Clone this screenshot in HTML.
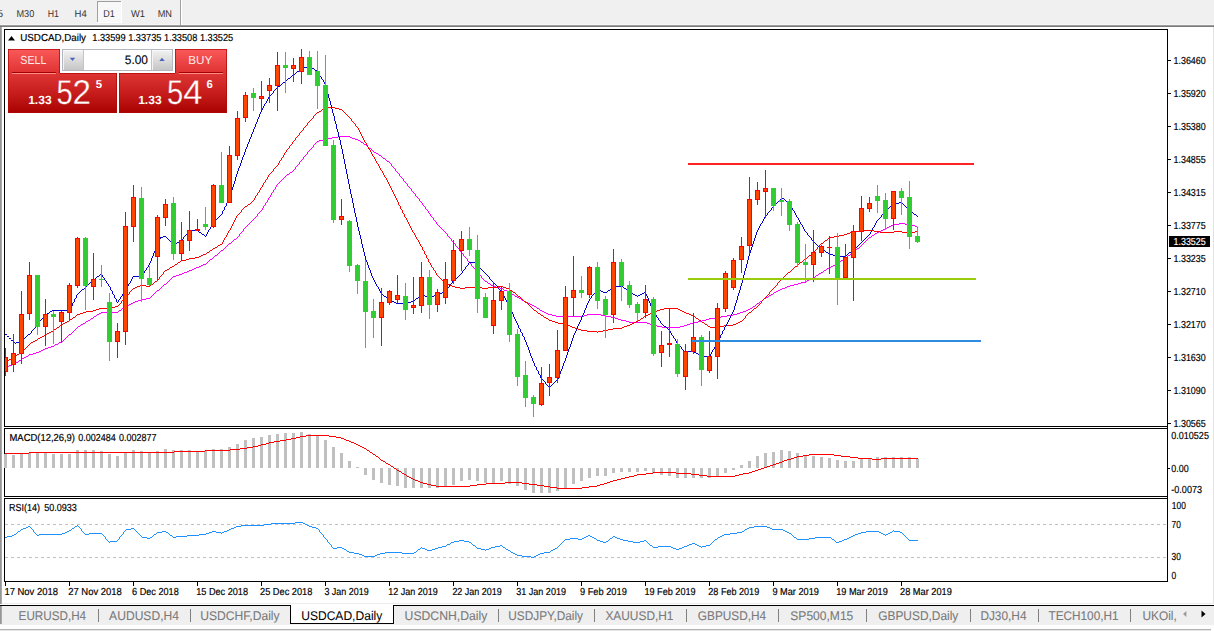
<!DOCTYPE html>
<html><head><meta charset="utf-8"><title>USDCAD Daily</title>
<style>html,body{margin:0;padding:0;background:#fff;overflow:hidden}svg{display:block}</style></head>
<body>
<svg width="1214" height="631" viewBox="0 0 1214 631" font-family="Liberation Sans, sans-serif" text-rendering="geometricPrecision">
<defs>
<linearGradient id="gBtn" x1="0" y1="0" x2="0" y2="1"><stop offset="0" stop-color="#fb5a5a"/><stop offset="1" stop-color="#df3232"/></linearGradient>
<linearGradient id="gBox" x1="0" y1="0" x2="0" y2="1"><stop offset="0" stop-color="#de3535"/><stop offset="0.55" stop-color="#c41a1a"/><stop offset="1" stop-color="#a90000"/></linearGradient>
<linearGradient id="gSpin" x1="0" y1="0" x2="0" y2="1"><stop offset="0" stop-color="#f2f2f2"/><stop offset="0.5" stop-color="#dcdcdc"/><stop offset="1" stop-color="#c6c6c6"/></linearGradient>
<linearGradient id="gBoxU" gradientUnits="userSpaceOnUse" x1="0" y1="73" x2="0" y2="113"><stop offset="0" stop-color="#de3535"/><stop offset="0.55" stop-color="#c41a1a"/><stop offset="1" stop-color="#a90000"/></linearGradient>
<linearGradient id="gLeft" x1="0" y1="0" x2="1" y2="0"><stop offset="0" stop-color="#8c8c8c"/><stop offset="1" stop-color="#b4b4b4"/></linearGradient>
</defs>
<rect x="0" y="0" width="1214" height="631" fill="#fff"/>
<g shape-rendering="crispEdges">
<rect x="0" y="0" width="1214" height="25" fill="#f0f0f0"/>
<rect x="0" y="24" width="1214" height="1" fill="#f6f6f6"/>
<rect x="0" y="25" width="1214" height="1" fill="#9c9c9c"/>
<rect x="0" y="26" width="1214" height="1" fill="#7a7a7a"/>
<rect x="97" y="1" width="25" height="22" fill="#f8f8f8"/>
<rect x="97" y="1" width="25" height="1" fill="#a0a0a0"/><rect x="97" y="1" width="1" height="22" fill="#a0a0a0"/>
<rect x="97" y="22" width="25" height="1" fill="#fff"/><rect x="121" y="1" width="1" height="22" fill="#fff"/>
<rect x="180" y="0" width="1" height="25" fill="#a0a0a0"/><rect x="181" y="0" width="1" height="25" fill="#fff"/>
<rect x="1213" y="27" width="1" height="577" fill="#e2e2e2"/>
<rect x="2" y="603" width="1212" height="1" fill="#ececec"/>
<rect x="0" y="606" width="1214" height="19" fill="#efefef"/>
<rect x="0" y="27" width="2" height="577" fill="url(#gLeft)"/>
<rect x="0" y="606" width="2" height="18" fill="url(#gLeft)"/>
<rect x="0" y="605" width="1214" height="1" fill="#000"/>
<rect x="0" y="625" width="1214" height="4" fill="#fdfdfd"/>
<rect x="0" y="629" width="1211" height="1" fill="#b2b2b2"/>
<rect x="0" y="630" width="1211" height="1" fill="#e6e6e6"/>
<rect x="4" y="29" width="1164" height="1" fill="#000"/>
<rect x="4" y="426" width="1164" height="1" fill="#000"/>
<rect x="4" y="29" width="1" height="398" fill="#000"/>
<rect x="1167" y="29" width="1" height="398" fill="#000"/>
<rect x="4" y="428" width="1164" height="1" fill="#000"/>
<rect x="4" y="496" width="1164" height="1" fill="#000"/>
<rect x="4" y="428" width="1" height="69" fill="#000"/>
<rect x="1167" y="428" width="1" height="69" fill="#000"/>
<rect x="4" y="498" width="1164" height="1" fill="#000"/>
<rect x="4" y="581" width="1164" height="1" fill="#000"/>
<rect x="4" y="498" width="1" height="84" fill="#000"/>
<rect x="1167" y="498" width="1" height="84" fill="#000"/>
<rect x="1167" y="29" width="1" height="553" fill="#000"/>
</g>
<clipPath id="cm"><rect x="5" y="30" width="1162" height="396"/></clipPath>
<g clip-path="url(#cm)">
<path d="M338 136h12v1h-12zM332 137h6v1h-6zM350 137h2v1h-2zM328 138h4v1h-4zM352 138h3v1h-3zM324 139h4v1h-4zM355 139h3v1h-3zM319 140h5v1h-5zM358 140h2v1h-2zM317 141h2v1h-2zM361 142h2v1h-2zM364 144h2v1h-2zM369 148h2v1h-2zM374 152h2v1h-2zM376 153h2v1h-2zM379 155h2v1h-2zM383 158h2v1h-2zM387 161h2v1h-2zM290 172h2v1h-2zM287 174h2v1h-2zM899 223h6v1h-6zM893 224h6v1h-6zM905 224h7v1h-7zM891 225h2v1h-2zM912 225h3v1h-3zM889 226h2v1h-2zM915 226h2v1h-2zM887 227h2v1h-2zM885 228h2v1h-2zM883 229h2v1h-2zM881 230h2v1h-2zM879 231h2v1h-2zM877 232h2v1h-2zM875 233h2v1h-2zM872 235h2v1h-2zM869 237h2v1h-2zM234 239h2v1h-2zM229 243h2v1h-2zM857 248h2v1h-2zM221 250h2v1h-2zM851 253h2v1h-2zM215 255h2v1h-2zM848 255h2v1h-2zM845 257h2v1h-2zM210 259h2v1h-2zM841 260h2v1h-2zM203 264h3v1h-3zM835 264h3v1h-3zM201 265h2v1h-2zM833 265h2v1h-2zM199 266h2v1h-2zM831 266h2v1h-2zM196 267h3v1h-3zM829 267h2v1h-2zM194 268h2v1h-2zM827 268h2v1h-2zM192 269h2v1h-2zM189 270h3v1h-3zM824 270h2v1h-2zM187 271h2v1h-2zM184 272h3v1h-3zM821 272h2v1h-2zM182 273h2v1h-2zM819 273h2v1h-2zM179 274h3v1h-3zM176 275h3v1h-3zM816 275h2v1h-2zM173 276h3v1h-3zM813 277h2v1h-2zM811 278h2v1h-2zM809 279h2v1h-2zM807 280h2v1h-2zM485 281h2v1h-2zM801 282h5v1h-5zM488 283h2v1h-2zM798 283h3v1h-3zM164 284h2v1h-2zM794 284h4v1h-4zM491 285h2v1h-2zM790 285h4v1h-4zM493 286h3v1h-3zM787 286h3v1h-3zM496 287h4v1h-4zM785 287h2v1h-2zM500 288h3v1h-3zM782 288h3v1h-3zM780 289h2v1h-2zM157 290h2v1h-2zM504 290h3v1h-3zM778 290h2v1h-2zM776 291h2v1h-2zM508 292h2v1h-2zM774 292h2v1h-2zM510 293h2v1h-2zM512 294h2v1h-2zM771 294h2v1h-2zM769 295h2v1h-2zM515 296h2v1h-2zM517 297h2v1h-2zM766 297h2v1h-2zM146 298h4v1h-4zM519 298h2v1h-2zM764 298h2v1h-2zM142 299h4v1h-4zM138 300h4v1h-4zM522 300h2v1h-2zM135 301h3v1h-3zM524 301h2v1h-2zM760 301h2v1h-2zM133 302h2v1h-2zM526 302h2v1h-2zM131 303h2v1h-2zM528 303h2v1h-2zM757 303h2v1h-2zM129 304h2v1h-2zM530 304h2v1h-2zM127 305h2v1h-2zM532 305h2v1h-2zM125 306h2v1h-2zM534 306h2v1h-2zM753 306h2v1h-2zM122 308h2v1h-2zM537 308h2v1h-2zM750 308h2v1h-2zM748 309h2v1h-2zM119 310h2v1h-2zM540 310h2v1h-2zM746 310h2v1h-2zM542 311h2v1h-2zM743 311h3v1h-3zM101 312h17v1h-17zM544 312h2v1h-2zM740 312h3v1h-3zM99 313h2v1h-2zM546 313h2v1h-2zM737 313h3v1h-3zM97 314h2v1h-2zM548 314h4v1h-4zM587 314h14v1h-14zM733 314h4v1h-4zM552 315h4v1h-4zM584 315h3v1h-3zM601 315h5v1h-5zM727 315h6v1h-6zM94 316h2v1h-2zM556 316h28v1h-28zM606 316h5v1h-5zM721 316h6v1h-6zM611 317h4v1h-4zM715 317h6v1h-6zM91 318h2v1h-2zM615 318h3v1h-3zM709 318h6v1h-6zM618 319h3v1h-3zM706 319h3v1h-3zM88 320h2v1h-2zM621 320h5v1h-5zM702 320h4v1h-4zM86 321h2v1h-2zM626 321h3v1h-3zM698 321h4v1h-4zM629 322h18v1h-18zM693 322h5v1h-5zM83 323h2v1h-2zM647 323h3v1h-3zM690 323h3v1h-3zM81 324h2v1h-2zM650 324h4v1h-4zM687 324h3v1h-3zM654 325h3v1h-3zM684 325h3v1h-3zM78 326h2v1h-2zM657 326h5v1h-5zM680 326h4v1h-4zM662 327h18v1h-18zM69 334h2v1h-2zM59 342h3v1h-3zM55 344h3v1h-3zM51 346h3v1h-3zM48 347h3v1h-3zM45 348h3v1h-3zM43 349h2v1h-2zM41 350h2v1h-2zM39 351h2v1h-2zM36 352h3v1h-3zM33 353h3v1h-3zM29 354h4v1h-4zM26 356h2v1h-2zM24 357h2v1h-2zM22 358h2v1h-2zM19 360h2v1h-2zM16 362h2v1h-2zM14 363h2v1h-2zM12 364h2v1h-2zM9 365h3v1h-3zM5 366h4v1h-4zM18 361h1v1h-1zM21 359h1v1h-1zM28 355h1v1h-1zM54 345h1v1h-1zM58 343h1v1h-1zM62 341h1v1h-1zM63 340h1v1h-1zM64 339h1v1h-1zM65 338h1v1h-1zM66 337h1v1h-1zM67 336h1v1h-1zM68 335h1v1h-1zM71 333h1v1h-1zM72 332h1v1h-1zM73 331h1v1h-1zM74 330h1v1h-1zM75 329h1v1h-1zM76 328h1v1h-1zM77 327h1v1h-1zM80 325h1v1h-1zM85 322h1v1h-1zM90 319h1v1h-1zM93 317h1v1h-1zM96 315h1v1h-1zM118 311h1v1h-1zM121 309h1v1h-1zM124 307h1v1h-1zM150 297h1v1h-1zM151 296h1v1h-1zM152 295h1v1h-1zM153 294h1v1h-1zM154 293h1v1h-1zM155 292h1v1h-1zM156 291h1v1h-1zM159 289h1v1h-1zM160 288h1v1h-1zM161 287h1v1h-1zM162 286h1v1h-1zM163 285h1v1h-1zM166 283h1v1h-1zM167 282h1v1h-1zM168 281h1v1h-1zM169 280h1v1h-1zM170 279h1v1h-1zM171 278h1v1h-1zM172 277h1v1h-1zM206 263h1v1h-1zM207 262h1v1h-1zM208 261h1v1h-1zM209 260h1v1h-1zM212 258h1v1h-1zM213 257h1v1h-1zM214 256h1v1h-1zM217 254h1v1h-1zM218 253h1v1h-1zM219 252h1v1h-1zM220 251h1v1h-1zM223 249h1v1h-1zM224 248h1v1h-1zM225 247h1v1h-1zM226 246h1v1h-1zM227 245h1v1h-1zM228 244h1v1h-1zM231 242h1v1h-1zM232 241h1v1h-1zM233 240h1v1h-1zM236 238h1v1h-1zM237 237h1v1h-1zM238 236h1v1h-1zM239 234h1v2h-1zM240 233h1v1h-1zM241 232h1v1h-1zM242 231h1v1h-1zM243 229h1v2h-1zM244 228h1v1h-1zM245 227h1v1h-1zM246 226h1v1h-1zM247 225h1v1h-1zM248 224h1v1h-1zM249 223h1v1h-1zM250 222h1v1h-1zM251 221h1v1h-1zM252 220h1v1h-1zM253 219h1v1h-1zM254 218h1v1h-1zM255 217h1v1h-1zM256 216h1v1h-1zM257 214h1v2h-1zM258 213h1v1h-1zM259 212h1v1h-1zM260 211h1v1h-1zM261 210h1v1h-1zM262 208h1v2h-1zM263 206h1v2h-1zM264 205h1v1h-1zM265 203h1v2h-1zM266 202h1v1h-1zM267 200h1v2h-1zM268 198h1v2h-1zM269 197h1v1h-1zM270 195h1v2h-1zM271 193h1v2h-1zM272 192h1v1h-1zM273 190h1v2h-1zM274 189h1v1h-1zM275 187h1v2h-1zM276 185h1v2h-1zM277 184h1v1h-1zM278 183h1v1h-1zM279 182h1v1h-1zM280 181h1v1h-1zM281 180h1v1h-1zM282 179h1v1h-1zM283 178h1v1h-1zM284 177h1v1h-1zM285 176h1v1h-1zM286 175h1v1h-1zM289 173h1v1h-1zM292 171h1v1h-1zM293 170h1v1h-1zM294 169h1v1h-1zM295 167h1v2h-1zM296 166h1v1h-1zM297 165h1v1h-1zM298 164h1v1h-1zM299 162h1v2h-1zM300 161h1v1h-1zM301 160h1v1h-1zM302 159h1v1h-1zM303 157h1v2h-1zM304 156h1v1h-1zM305 155h1v1h-1zM306 154h1v1h-1zM307 152h1v2h-1zM308 151h1v1h-1zM309 150h1v1h-1zM310 149h1v1h-1zM311 148h1v1h-1zM312 147h1v1h-1zM313 145h1v2h-1zM314 144h1v1h-1zM315 143h1v1h-1zM316 142h1v1h-1zM360 141h1v1h-1zM363 143h1v1h-1zM366 145h1v1h-1zM367 146h1v1h-1zM368 147h1v1h-1zM371 149h1v1h-1zM372 150h1v1h-1zM373 151h1v1h-1zM378 154h1v1h-1zM381 156h1v1h-1zM382 157h1v1h-1zM385 159h1v1h-1zM386 160h1v1h-1zM389 162h1v1h-1zM390 163h1v1h-1zM391 164h1v2h-1zM392 166h1v1h-1zM393 167h1v1h-1zM394 168h1v1h-1zM395 169h1v2h-1zM396 171h1v1h-1zM397 172h1v1h-1zM398 173h1v1h-1zM399 174h1v2h-1zM400 176h1v1h-1zM401 177h1v1h-1zM402 178h1v1h-1zM403 179h1v2h-1zM404 181h1v1h-1zM405 182h1v1h-1zM406 183h1v1h-1zM407 184h1v2h-1zM408 186h1v1h-1zM409 187h1v1h-1zM410 188h1v1h-1zM411 189h1v2h-1zM412 191h1v1h-1zM413 192h1v1h-1zM414 193h1v1h-1zM415 194h1v2h-1zM416 196h1v1h-1zM417 197h1v1h-1zM418 198h1v1h-1zM419 199h1v2h-1zM420 201h1v1h-1zM421 202h1v1h-1zM422 203h1v2h-1zM423 205h1v1h-1zM424 206h1v1h-1zM425 207h1v2h-1zM426 209h1v1h-1zM427 210h1v1h-1zM428 211h1v2h-1zM429 213h1v1h-1zM430 214h1v2h-1zM431 216h1v1h-1zM432 217h1v1h-1zM433 218h1v2h-1zM434 220h1v1h-1zM435 221h1v1h-1zM436 222h1v2h-1zM437 224h1v1h-1zM438 225h1v1h-1zM439 226h1v1h-1zM440 227h1v1h-1zM441 228h1v1h-1zM442 229h1v1h-1zM443 230h1v1h-1zM444 231h1v1h-1zM445 232h1v1h-1zM446 233h1v1h-1zM447 234h1v2h-1zM448 236h1v1h-1zM449 237h1v1h-1zM450 238h1v1h-1zM451 239h1v2h-1zM452 241h1v1h-1zM453 242h1v1h-1zM454 243h1v1h-1zM455 244h1v2h-1zM456 246h1v1h-1zM457 247h1v1h-1zM458 248h1v1h-1zM459 249h1v2h-1zM460 251h1v1h-1zM461 252h1v1h-1zM462 253h1v1h-1zM463 254h1v2h-1zM464 256h1v1h-1zM465 257h1v1h-1zM466 258h1v1h-1zM467 259h1v2h-1zM468 261h1v1h-1zM469 262h1v1h-1zM470 263h1v1h-1zM471 264h1v2h-1zM472 266h1v1h-1zM473 267h1v1h-1zM474 268h1v1h-1zM475 269h1v2h-1zM476 271h1v1h-1zM477 272h1v1h-1zM478 273h1v1h-1zM479 274h1v1h-1zM480 275h1v1h-1zM481 276h1v2h-1zM482 278h1v1h-1zM483 279h1v1h-1zM484 280h1v1h-1zM487 282h1v1h-1zM490 284h1v1h-1zM503 289h1v1h-1zM507 291h1v1h-1zM514 295h1v1h-1zM521 299h1v1h-1zM536 307h1v1h-1zM539 309h1v1h-1zM752 307h1v1h-1zM755 305h1v1h-1zM756 304h1v1h-1zM759 302h1v1h-1zM762 300h1v1h-1zM763 299h1v1h-1zM768 296h1v1h-1zM773 293h1v1h-1zM806 281h1v1h-1zM815 276h1v1h-1zM818 274h1v1h-1zM823 271h1v1h-1zM826 269h1v1h-1zM838 263h1v1h-1zM839 262h1v1h-1zM840 261h1v1h-1zM843 259h1v1h-1zM844 258h1v1h-1zM847 256h1v1h-1zM850 254h1v1h-1zM853 252h1v1h-1zM854 251h1v1h-1zM855 250h1v1h-1zM856 249h1v1h-1zM859 247h1v1h-1zM860 246h1v1h-1zM861 245h1v1h-1zM862 244h1v1h-1zM863 243h1v1h-1zM864 242h1v1h-1zM865 241h1v1h-1zM866 240h1v1h-1zM867 239h1v1h-1zM868 238h1v1h-1zM871 236h1v1h-1zM874 234h1v1h-1zM917 227h1v1h-1z" fill="#ff00ff" shape-rendering="crispEdges" />
<path d="M326 107h9v1h-9zM324 108h2v1h-2zM335 108h4v1h-4zM322 109h2v1h-2zM339 109h3v1h-3zM319 111h2v1h-2zM317 112h2v1h-2zM248 204h2v1h-2zM245 206h2v1h-2zM859 230h15v1h-15zM854 231h5v1h-5zM874 231h6v1h-6zM894 231h8v1h-8zM915 231h3v1h-3zM850 232h4v1h-4zM880 232h14v1h-14zM902 232h13v1h-13zM847 233h3v1h-3zM844 234h3v1h-3zM839 235h5v1h-5zM834 236h5v1h-5zM829 237h5v1h-5zM825 240h2v1h-2zM821 243h2v1h-2zM220 244h2v1h-2zM218 245h2v1h-2zM215 247h2v1h-2zM213 248h2v1h-2zM210 250h2v1h-2zM207 252h2v1h-2zM203 254h3v1h-3zM201 255h2v1h-2zM809 255h2v1h-2zM199 256h2v1h-2zM195 257h4v1h-4zM189 258h6v1h-6zM805 258h2v1h-2zM186 259h3v1h-3zM181 260h5v1h-5zM178 262h2v1h-2zM800 262h2v1h-2zM175 264h2v1h-2zM172 266h2v1h-2zM795 266h2v1h-2zM170 267h2v1h-2zM167 269h2v1h-2zM165 270h2v1h-2zM788 272h2v1h-2zM155 281h2v1h-2zM444 282h2v1h-2zM446 283h2v1h-2zM151 284h2v1h-2zM448 284h2v1h-2zM140 285h6v1h-6zM450 285h2v1h-2zM137 286h3v1h-3zM146 286h4v1h-4zM452 286h3v1h-3zM497 286h6v1h-6zM135 287h2v1h-2zM455 287h5v1h-5zM465 287h17v1h-17zM488 287h9v1h-9zM503 287h3v1h-3zM133 288h2v1h-2zM460 288h5v1h-5zM482 288h6v1h-6zM506 288h3v1h-3zM510 290h2v1h-2zM513 292h2v1h-2zM518 296h2v1h-2zM525 302h2v1h-2zM115 306h3v1h-3zM112 307h3v1h-3zM99 308h13v1h-13zM664 308h14v1h-14zM754 308h2v1h-2zM96 309h3v1h-3zM660 309h4v1h-4zM678 309h2v1h-2zM93 310h3v1h-3zM534 310h2v1h-2zM657 310h3v1h-3zM680 310h2v1h-2zM86 311h7v1h-7zM654 311h3v1h-3zM682 311h2v1h-2zM83 312h3v1h-3zM652 312h2v1h-2zM684 312h2v1h-2zM749 312h2v1h-2zM80 313h3v1h-3zM538 313h2v1h-2zM650 313h2v1h-2zM686 313h3v1h-3zM77 314h3v1h-3zM648 314h2v1h-2zM689 314h2v1h-2zM541 315h2v1h-2zM646 315h2v1h-2zM691 315h2v1h-2zM644 316h2v1h-2zM693 316h2v1h-2zM73 317h2v1h-2zM544 317h2v1h-2zM546 318h2v1h-2zM641 318h2v1h-2zM696 318h2v1h-2zM70 319h2v1h-2zM549 320h3v1h-3zM638 320h2v1h-2zM699 320h2v1h-2zM67 321h2v1h-2zM552 321h3v1h-3zM636 321h2v1h-2zM740 321h2v1h-2zM65 322h2v1h-2zM555 322h3v1h-3zM634 322h2v1h-2zM702 322h2v1h-2zM738 322h2v1h-2zM63 323h2v1h-2zM558 323h7v1h-7zM632 323h2v1h-2zM736 323h2v1h-2zM61 324h2v1h-2zM565 324h3v1h-3zM630 324h2v1h-2zM705 324h2v1h-2zM733 324h3v1h-3zM568 325h2v1h-2zM627 325h3v1h-3zM724 325h9v1h-9zM570 326h2v1h-2zM624 326h3v1h-3zM708 326h2v1h-2zM720 326h4v1h-4zM57 327h2v1h-2zM572 327h3v1h-3zM622 327h2v1h-2zM710 327h10v1h-10zM575 328h3v1h-3zM613 328h9v1h-9zM54 329h2v1h-2zM578 329h3v1h-3zM608 329h5v1h-5zM581 330h6v1h-6zM603 330h5v1h-5zM51 331h2v1h-2zM587 331h10v1h-10zM598 331h5v1h-5zM49 332h2v1h-2zM47 333h2v1h-2zM45 334h2v1h-2zM42 336h2v1h-2zM40 337h2v1h-2zM38 338h2v1h-2zM35 340h2v1h-2zM33 341h2v1h-2zM31 342h2v1h-2zM19 353h2v1h-2zM17 354h2v1h-2zM14 356h2v1h-2zM11 358h2v1h-2zM9 359h2v1h-2zM7 360h2v1h-2zM5 362h1v1h-1zM6 361h1v1h-1zM13 357h1v1h-1zM16 355h1v1h-1zM21 352h1v1h-1zM22 351h1v1h-1zM23 350h1v1h-1zM24 349h1v1h-1zM25 348h1v1h-1zM26 347h1v1h-1zM27 346h1v1h-1zM28 345h1v1h-1zM29 344h1v1h-1zM30 343h1v1h-1zM37 339h1v1h-1zM44 335h1v1h-1zM53 330h1v1h-1zM56 328h1v1h-1zM59 326h1v1h-1zM60 325h1v1h-1zM69 320h1v1h-1zM72 318h1v1h-1zM75 316h1v1h-1zM76 315h1v1h-1zM118 305h1v1h-1zM119 304h1v1h-1zM120 303h1v1h-1zM121 301h1v2h-1zM122 300h1v1h-1zM123 299h1v1h-1zM124 298h1v1h-1zM125 297h1v1h-1zM126 296h1v1h-1zM127 295h1v1h-1zM128 294h1v1h-1zM129 292h1v2h-1zM130 291h1v1h-1zM131 290h1v1h-1zM132 289h1v1h-1zM150 285h1v1h-1zM153 283h1v1h-1zM154 282h1v1h-1zM157 280h1v1h-1zM158 279h1v1h-1zM159 277h1v2h-1zM160 276h1v1h-1zM161 275h1v1h-1zM162 274h1v1h-1zM163 272h1v2h-1zM164 271h1v1h-1zM169 268h1v1h-1zM174 265h1v1h-1zM177 263h1v1h-1zM180 261h1v1h-1zM206 253h1v1h-1zM209 251h1v1h-1zM212 249h1v1h-1zM217 246h1v1h-1zM222 242h1v2h-1zM223 240h1v2h-1zM224 238h1v2h-1zM225 237h1v1h-1zM226 235h1v2h-1zM227 233h1v2h-1zM228 231h1v2h-1zM229 230h1v1h-1zM230 228h1v2h-1zM231 226h1v2h-1zM232 224h1v2h-1zM233 222h1v2h-1zM234 220h1v2h-1zM235 218h1v2h-1zM236 216h1v2h-1zM237 215h1v1h-1zM238 214h1v1h-1zM239 213h1v1h-1zM240 212h1v1h-1zM241 210h1v2h-1zM242 209h1v1h-1zM243 208h1v1h-1zM244 207h1v1h-1zM247 205h1v1h-1zM250 203h1v1h-1zM251 202h1v1h-1zM252 201h1v1h-1zM253 200h1v1h-1zM254 198h1v2h-1zM255 196h1v2h-1zM256 195h1v1h-1zM257 193h1v2h-1zM258 192h1v1h-1zM259 190h1v2h-1zM260 188h1v2h-1zM261 187h1v1h-1zM262 185h1v2h-1zM263 183h1v2h-1zM264 182h1v1h-1zM265 180h1v2h-1zM266 179h1v1h-1zM267 177h1v2h-1zM268 175h1v2h-1zM269 174h1v1h-1zM270 173h1v1h-1zM271 172h1v1h-1zM272 171h1v1h-1zM273 169h1v2h-1zM274 168h1v1h-1zM275 167h1v1h-1zM276 166h1v1h-1zM277 165h1v1h-1zM278 163h1v2h-1zM279 161h1v2h-1zM280 160h1v1h-1zM281 158h1v2h-1zM282 157h1v1h-1zM283 155h1v2h-1zM284 153h1v2h-1zM285 152h1v1h-1zM286 150h1v2h-1zM287 149h1v1h-1zM288 148h1v1h-1zM289 146h1v2h-1zM290 145h1v1h-1zM291 144h1v1h-1zM292 142h1v2h-1zM293 141h1v1h-1zM294 140h1v1h-1zM295 138h1v2h-1zM296 137h1v1h-1zM297 136h1v1h-1zM298 135h1v1h-1zM299 133h1v2h-1zM300 132h1v1h-1zM301 131h1v1h-1zM302 130h1v1h-1zM303 128h1v2h-1zM304 127h1v1h-1zM305 126h1v1h-1zM306 125h1v1h-1zM307 123h1v2h-1zM308 122h1v1h-1zM309 121h1v1h-1zM310 120h1v1h-1zM311 119h1v1h-1zM312 118h1v1h-1zM313 116h1v2h-1zM314 115h1v1h-1zM315 114h1v1h-1zM316 113h1v1h-1zM321 110h1v1h-1zM342 110h1v1h-1zM343 111h1v1h-1zM344 112h1v1h-1zM345 113h1v1h-1zM346 114h1v1h-1zM347 115h1v1h-1zM348 116h1v1h-1zM349 117h1v1h-1zM350 118h1v1h-1zM351 119h1v2h-1zM352 121h1v1h-1zM353 122h1v1h-1zM354 123h1v1h-1zM355 124h1v2h-1zM356 126h1v1h-1zM357 127h1v1h-1zM358 128h1v2h-1zM359 130h1v2h-1zM360 132h1v2h-1zM361 134h1v2h-1zM362 136h1v2h-1zM363 138h1v2h-1zM364 140h1v2h-1zM365 142h1v1h-1zM366 143h1v2h-1zM367 145h1v2h-1zM368 147h1v2h-1zM369 149h1v1h-1zM370 150h1v2h-1zM371 152h1v2h-1zM372 154h1v2h-1zM373 156h1v1h-1zM374 157h1v2h-1zM375 159h1v2h-1zM376 161h1v2h-1zM377 163h1v1h-1zM378 164h1v2h-1zM379 166h1v2h-1zM380 168h1v2h-1zM381 170h1v1h-1zM382 171h1v2h-1zM383 173h1v2h-1zM384 175h1v2h-1zM385 177h1v1h-1zM386 178h1v2h-1zM387 180h1v2h-1zM388 182h1v2h-1zM389 184h1v2h-1zM390 186h1v2h-1zM391 188h1v2h-1zM392 190h1v2h-1zM393 192h1v2h-1zM394 194h1v2h-1zM395 196h1v2h-1zM396 198h1v2h-1zM397 200h1v2h-1zM398 202h1v3h-1zM399 205h1v1h-1zM400 206h1v3h-1zM401 209h1v1h-1zM402 210h1v3h-1zM403 213h1v1h-1zM404 214h1v3h-1zM405 217h1v1h-1zM406 218h1v2h-1zM407 220h1v2h-1zM408 222h1v2h-1zM409 224h1v2h-1zM410 226h1v2h-1zM411 228h1v2h-1zM412 230h1v2h-1zM413 232h1v1h-1zM414 233h1v2h-1zM415 235h1v2h-1zM416 237h1v2h-1zM417 239h1v1h-1zM418 240h1v2h-1zM419 242h1v2h-1zM420 244h1v2h-1zM421 246h1v1h-1zM422 247h1v3h-1zM423 250h1v1h-1zM424 251h1v3h-1zM425 254h1v1h-1zM426 255h1v3h-1zM427 258h1v1h-1zM428 259h1v3h-1zM429 262h1v1h-1zM430 263h1v2h-1zM431 265h1v2h-1zM432 267h1v1h-1zM433 268h1v2h-1zM434 270h1v1h-1zM435 271h1v2h-1zM436 273h1v2h-1zM437 275h1v1h-1zM438 276h1v1h-1zM439 277h1v1h-1zM440 278h1v1h-1zM441 279h1v1h-1zM442 280h1v1h-1zM443 281h1v1h-1zM509 289h1v1h-1zM512 291h1v1h-1zM515 293h1v1h-1zM516 294h1v1h-1zM517 295h1v1h-1zM520 297h1v1h-1zM521 298h1v1h-1zM522 299h1v1h-1zM523 300h1v1h-1zM524 301h1v1h-1zM527 303h1v1h-1zM528 304h1v1h-1zM529 305h1v1h-1zM530 306h1v1h-1zM531 307h1v1h-1zM532 308h1v1h-1zM533 309h1v1h-1zM536 311h1v1h-1zM537 312h1v1h-1zM540 314h1v1h-1zM543 316h1v1h-1zM548 319h1v1h-1zM597 332h1v1h-1zM640 319h1v1h-1zM643 317h1v1h-1zM695 317h1v1h-1zM698 319h1v1h-1zM701 321h1v1h-1zM704 323h1v1h-1zM707 325h1v1h-1zM742 320h1v1h-1zM743 319h1v1h-1zM744 318h1v1h-1zM745 316h1v2h-1zM746 315h1v1h-1zM747 314h1v1h-1zM748 313h1v1h-1zM751 311h1v1h-1zM752 310h1v1h-1zM753 309h1v1h-1zM756 307h1v1h-1zM757 306h1v1h-1zM758 305h1v1h-1zM759 304h1v1h-1zM760 303h1v1h-1zM761 301h1v2h-1zM762 300h1v1h-1zM763 299h1v1h-1zM764 298h1v1h-1zM765 297h1v1h-1zM766 296h1v1h-1zM767 295h1v1h-1zM768 294h1v1h-1zM769 292h1v2h-1zM770 291h1v1h-1zM771 290h1v1h-1zM772 289h1v1h-1zM773 288h1v1h-1zM774 287h1v1h-1zM775 286h1v1h-1zM776 285h1v1h-1zM777 283h1v2h-1zM778 282h1v1h-1zM779 281h1v1h-1zM780 280h1v1h-1zM781 279h1v1h-1zM782 278h1v1h-1zM783 277h1v1h-1zM784 276h1v1h-1zM785 275h1v1h-1zM786 274h1v1h-1zM787 273h1v1h-1zM790 271h1v1h-1zM791 270h1v1h-1zM792 269h1v1h-1zM793 268h1v1h-1zM794 267h1v1h-1zM797 265h1v1h-1zM798 264h1v1h-1zM799 263h1v1h-1zM802 261h1v1h-1zM803 260h1v1h-1zM804 259h1v1h-1zM807 257h1v1h-1zM808 256h1v1h-1zM811 254h1v1h-1zM812 253h1v1h-1zM813 252h1v1h-1zM814 251h1v1h-1zM815 250h1v1h-1zM816 249h1v1h-1zM817 247h1v2h-1zM818 246h1v1h-1zM819 245h1v1h-1zM820 244h1v1h-1zM823 242h1v1h-1zM824 241h1v1h-1zM827 239h1v1h-1zM828 238h1v1h-1z" fill="#ff0000" shape-rendering="crispEdges" />
<path d="M307 66h4v1h-4zM304 67h3v1h-3zM301 68h3v1h-3zM312 68h2v1h-2zM315 70h2v1h-2zM297 71h2v1h-2zM293 74h2v1h-2zM288 78h2v1h-2zM283 82h2v1h-2zM278 86h2v1h-2zM781 198h3v1h-3zM786 201h2v1h-2zM899 202h3v1h-3zM893 203h6v1h-6zM909 210h2v1h-2zM914 214h2v1h-2zM189 230h9v1h-9zM199 232h2v1h-2zM202 234h2v1h-2zM163 236h3v1h-3zM160 237h3v1h-3zM177 242h3v1h-3zM173 244h3v1h-3zM820 248h2v1h-2zM823 250h2v1h-2zM852 250h2v1h-2zM826 252h2v1h-2zM849 252h2v1h-2zM829 254h4v1h-4zM833 255h3v1h-3zM836 256h10v1h-10zM469 262h6v1h-6zM100 274h2v1h-2zM97 276h2v1h-2zM133 276h9v1h-9zM92 280h2v1h-2zM453 280h2v1h-2zM616 286h7v1h-7zM613 287h3v1h-3zM611 288h2v1h-2zM624 288h2v1h-2zM82 289h2v1h-2zM597 289h2v1h-2zM599 290h2v1h-2zM608 290h2v1h-2zM444 291h2v1h-2zM601 291h2v1h-2zM442 292h2v1h-2zM603 292h4v1h-4zM629 292h2v1h-2zM644 292h2v1h-2zM440 293h2v1h-2zM631 293h2v1h-2zM642 293h2v1h-2zM437 294h3v1h-3zM633 294h2v1h-2zM640 294h2v1h-2zM422 295h3v1h-3zM434 295h3v1h-3zM635 295h2v1h-2zM638 295h2v1h-2zM384 296h2v1h-2zM425 296h3v1h-3zM431 296h3v1h-3zM428 297h3v1h-3zM416 298h2v1h-2zM389 300h3v1h-3zM392 301h2v1h-2zM411 301h3v1h-3zM394 302h2v1h-2zM407 302h4v1h-4zM396 303h11v1h-11zM52 310h18v1h-18zM50 311h2v1h-2zM47 313h2v1h-2zM45 314h2v1h-2zM664 326h2v1h-2zM5 334h2v1h-2zM28 334h2v1h-2zM7 336h2v1h-2zM9 338h2v1h-2zM11 340h2v1h-2zM21 340h2v1h-2zM19 341h2v1h-2zM13 342h2v1h-2zM16 342h3v1h-3zM686 351h8v1h-8zM694 352h2v1h-2zM696 353h2v1h-2zM699 355h2v1h-2zM701 356h9v1h-9zM556 380h2v1h-2zM15 343h1v1h-1zM23 339h1v1h-1zM24 338h1v1h-1zM25 337h1v1h-1zM26 336h1v1h-1zM27 335h1v1h-1zM30 333h1v1h-1zM31 331h1v2h-1zM32 330h1v1h-1zM33 329h1v1h-1zM34 328h1v1h-1zM35 326h1v2h-1zM36 325h1v1h-1zM37 324h1v1h-1zM38 323h1v1h-1zM39 321h1v2h-1zM40 320h1v1h-1zM41 319h1v1h-1zM42 318h1v1h-1zM43 316h1v2h-1zM44 315h1v1h-1zM49 312h1v1h-1zM70 307h1v3h-1zM71 306h1v1h-1zM72 303h1v3h-1zM73 302h1v1h-1zM74 299h1v3h-1zM75 298h1v1h-1zM76 295h1v3h-1zM77 294h1v1h-1zM78 293h1v1h-1zM79 292h1v1h-1zM80 291h1v1h-1zM81 290h1v1h-1zM84 288h1v1h-1zM85 287h1v1h-1zM86 286h1v1h-1zM87 285h1v1h-1zM88 284h1v1h-1zM89 283h1v1h-1zM90 282h1v1h-1zM91 281h1v1h-1zM94 279h1v1h-1zM95 278h1v1h-1zM96 277h1v1h-1zM99 275h1v1h-1zM102 275h1v2h-1zM103 277h1v1h-1zM104 278h1v2h-1zM105 280h1v1h-1zM106 281h1v2h-1zM107 283h1v1h-1zM108 284h1v2h-1zM109 286h1v1h-1zM110 287h1v3h-1zM111 290h1v1h-1zM112 291h1v3h-1zM113 294h1v1h-1zM114 295h1v3h-1zM115 298h1v1h-1zM116 299h1v3h-1zM117 302h1v1h-1zM118 300h1v2h-1zM119 299h1v1h-1zM120 297h1v2h-1zM121 296h1v1h-1zM122 294h1v2h-1zM123 293h1v1h-1zM124 291h1v2h-1zM125 290h1v1h-1zM126 288h1v2h-1zM127 286h1v2h-1zM128 284h1v2h-1zM129 283h1v1h-1zM130 281h1v2h-1zM131 279h1v2h-1zM132 277h1v2h-1zM142 274h1v2h-1zM143 273h1v1h-1zM144 271h1v2h-1zM145 270h1v1h-1zM146 268h1v2h-1zM147 267h1v1h-1zM148 265h1v2h-1zM149 263h1v2h-1zM150 261h1v2h-1zM151 258h1v3h-1zM152 256h1v2h-1zM153 253h1v3h-1zM154 251h1v2h-1zM155 248h1v3h-1zM156 246h1v2h-1zM157 243h1v3h-1zM158 241h1v2h-1zM159 239h1v2h-1zM160 238h1v1h-1zM166 237h1v1h-1zM167 238h1v1h-1zM168 239h1v1h-1zM169 240h1v1h-1zM170 241h1v1h-1zM171 242h1v1h-1zM172 243h1v1h-1zM176 243h1v1h-1zM180 241h1v1h-1zM181 240h1v1h-1zM182 239h1v1h-1zM183 237h1v2h-1zM184 236h1v1h-1zM185 235h1v1h-1zM186 234h1v1h-1zM187 232h1v2h-1zM188 231h1v1h-1zM198 231h1v1h-1zM201 233h1v1h-1zM204 235h1v1h-1zM205 236h1v1h-1zM206 234h1v2h-1zM207 232h1v2h-1zM208 230h1v2h-1zM209 229h1v1h-1zM210 227h1v2h-1zM211 225h1v2h-1zM212 223h1v2h-1zM213 222h1v1h-1zM214 221h1v1h-1zM215 220h1v1h-1zM216 219h1v1h-1zM217 218h1v1h-1zM218 217h1v1h-1zM219 216h1v1h-1zM220 215h1v1h-1zM221 214h1v1h-1zM222 211h1v3h-1zM223 210h1v1h-1zM224 207h1v3h-1zM225 206h1v1h-1zM226 203h1v3h-1zM227 202h1v1h-1zM228 199h1v3h-1zM229 197h1v2h-1zM230 194h1v3h-1zM231 190h1v4h-1zM232 187h1v3h-1zM233 184h1v3h-1zM234 181h1v3h-1zM235 177h1v4h-1zM236 174h1v3h-1zM237 171h1v3h-1zM238 168h1v3h-1zM239 166h1v2h-1zM240 163h1v3h-1zM241 160h1v3h-1zM242 157h1v3h-1zM243 155h1v2h-1zM244 152h1v3h-1zM245 149h1v3h-1zM246 147h1v2h-1zM247 144h1v3h-1zM248 142h1v2h-1zM249 139h1v3h-1zM250 137h1v2h-1zM251 134h1v3h-1zM252 132h1v2h-1zM253 129h1v3h-1zM254 127h1v2h-1zM255 124h1v3h-1zM256 122h1v2h-1zM257 119h1v3h-1zM258 117h1v2h-1zM259 114h1v3h-1zM260 112h1v2h-1zM261 110h1v2h-1zM262 108h1v2h-1zM263 106h1v2h-1zM264 104h1v2h-1zM265 103h1v1h-1zM266 101h1v2h-1zM267 99h1v2h-1zM268 97h1v2h-1zM269 96h1v1h-1zM270 95h1v1h-1zM271 94h1v1h-1zM272 93h1v1h-1zM273 91h1v2h-1zM274 90h1v1h-1zM275 89h1v1h-1zM276 88h1v1h-1zM277 87h1v1h-1zM280 85h1v1h-1zM281 84h1v1h-1zM282 83h1v1h-1zM285 81h1v1h-1zM286 80h1v1h-1zM287 79h1v1h-1zM290 77h1v1h-1zM291 76h1v1h-1zM292 75h1v1h-1zM295 73h1v1h-1zM296 72h1v1h-1zM299 70h1v1h-1zM300 69h1v1h-1zM311 67h1v1h-1zM314 69h1v1h-1zM317 71h1v1h-1zM318 72h1v2h-1zM319 74h1v2h-1zM320 76h1v1h-1zM321 77h1v2h-1zM322 79h1v1h-1zM323 80h1v2h-1zM324 82h1v2h-1zM325 84h1v2h-1zM326 86h1v4h-1zM327 90h1v4h-1zM328 94h1v4h-1zM329 98h1v3h-1zM330 101h1v4h-1zM331 105h1v4h-1zM332 109h1v4h-1zM333 113h1v3h-1zM334 116h1v5h-1zM335 121h1v3h-1zM336 124h1v5h-1zM337 129h1v3h-1zM338 132h1v5h-1zM339 137h1v3h-1zM340 140h1v5h-1zM341 145h1v4h-1zM342 149h1v5h-1zM343 154h1v5h-1zM344 159h1v5h-1zM345 164h1v5h-1zM346 169h1v5h-1zM347 174h1v5h-1zM348 179h1v5h-1zM349 184h1v5h-1zM350 189h1v5h-1zM351 194h1v4h-1zM352 198h1v5h-1zM353 203h1v5h-1zM354 208h1v5h-1zM355 213h1v4h-1zM356 217h1v5h-1zM357 222h1v5h-1zM358 227h1v4h-1zM359 231h1v4h-1zM360 235h1v4h-1zM361 239h1v5h-1zM362 244h1v4h-1zM363 248h1v4h-1zM364 252h1v4h-1zM365 256h1v4h-1zM366 260h1v2h-1zM367 262h1v3h-1zM368 265h1v3h-1zM369 268h1v2h-1zM370 270h1v3h-1zM371 273h1v3h-1zM372 276h1v2h-1zM373 278h1v2h-1zM374 280h1v2h-1zM375 282h1v2h-1zM376 284h1v2h-1zM377 286h1v1h-1zM378 287h1v2h-1zM379 289h1v2h-1zM380 291h1v2h-1zM381 293h1v1h-1zM382 294h1v1h-1zM383 295h1v1h-1zM386 297h1v1h-1zM387 298h1v1h-1zM388 299h1v1h-1zM414 300h1v1h-1zM415 299h1v1h-1zM418 297h1v1h-1zM419 296h1v1h-1zM420 295h1v1h-1zM421 294h1v1h-1zM446 289h1v2h-1zM447 288h1v1h-1zM448 287h1v1h-1zM449 285h1v2h-1zM450 284h1v1h-1zM451 283h1v1h-1zM452 281h1v2h-1zM455 279h1v1h-1zM456 278h1v1h-1zM457 277h1v1h-1zM458 276h1v1h-1zM459 275h1v1h-1zM460 274h1v1h-1zM461 273h1v1h-1zM462 271h1v2h-1zM463 270h1v1h-1zM464 269h1v1h-1zM465 267h1v2h-1zM466 266h1v1h-1zM467 265h1v1h-1zM468 263h1v2h-1zM475 263h1v1h-1zM476 264h1v1h-1zM477 265h1v1h-1zM478 266h1v1h-1zM479 267h1v1h-1zM480 268h1v1h-1zM481 269h1v1h-1zM482 270h1v1h-1zM483 271h1v1h-1zM484 272h1v1h-1zM485 273h1v1h-1zM486 274h1v1h-1zM487 275h1v1h-1zM488 276h1v1h-1zM489 277h1v2h-1zM490 279h1v1h-1zM491 280h1v1h-1zM492 281h1v1h-1zM493 282h1v1h-1zM494 283h1v1h-1zM495 284h1v1h-1zM496 285h1v1h-1zM497 286h1v2h-1zM498 288h1v1h-1zM499 289h1v1h-1zM500 290h1v1h-1zM501 291h1v1h-1zM502 292h1v2h-1zM503 294h1v2h-1zM504 296h1v2h-1zM505 298h1v2h-1zM506 300h1v2h-1zM507 302h1v2h-1zM508 304h1v2h-1zM509 306h1v2h-1zM510 308h1v2h-1zM511 310h1v2h-1zM512 312h1v2h-1zM513 314h1v3h-1zM514 317h1v2h-1zM515 319h1v2h-1zM516 321h1v2h-1zM517 323h1v2h-1zM518 325h1v3h-1zM519 328h1v1h-1zM520 329h1v3h-1zM521 332h1v1h-1zM522 333h1v3h-1zM523 336h1v1h-1zM524 337h1v3h-1zM525 340h1v2h-1zM526 342h1v3h-1zM527 345h1v2h-1zM528 347h1v3h-1zM529 350h1v3h-1zM530 353h1v3h-1zM531 356h1v2h-1zM532 358h1v3h-1zM533 361h1v2h-1zM534 363h1v3h-1zM535 366h1v1h-1zM536 367h1v3h-1zM537 370h1v1h-1zM538 371h1v3h-1zM539 374h1v1h-1zM540 375h1v3h-1zM541 378h1v1h-1zM542 379h1v1h-1zM543 380h1v1h-1zM544 381h1v1h-1zM545 382h1v2h-1zM546 384h1v1h-1zM547 385h1v1h-1zM548 386h1v1h-1zM549 387h1v1h-1zM550 386h1v1h-1zM551 385h1v1h-1zM552 384h1v1h-1zM553 383h1v1h-1zM554 382h1v1h-1zM555 381h1v1h-1zM557 379h1v1h-1zM558 377h1v2h-1zM559 374h1v3h-1zM560 371h1v3h-1zM561 369h1v2h-1zM562 366h1v3h-1zM563 363h1v3h-1zM564 361h1v2h-1zM565 358h1v3h-1zM566 355h1v3h-1zM567 352h1v3h-1zM568 349h1v3h-1zM569 347h1v2h-1zM570 344h1v3h-1zM571 341h1v3h-1zM572 338h1v3h-1zM573 335h1v3h-1zM574 333h1v2h-1zM575 331h1v2h-1zM576 329h1v2h-1zM577 326h1v3h-1zM578 324h1v2h-1zM579 322h1v2h-1zM580 320h1v2h-1zM581 317h1v3h-1zM582 315h1v2h-1zM583 313h1v2h-1zM584 310h1v3h-1zM585 308h1v2h-1zM586 305h1v3h-1zM587 303h1v2h-1zM588 301h1v2h-1zM589 299h1v2h-1zM590 298h1v1h-1zM591 296h1v2h-1zM592 295h1v1h-1zM593 294h1v1h-1zM594 293h1v1h-1zM595 291h1v2h-1zM596 290h1v1h-1zM607 291h1v1h-1zM610 289h1v1h-1zM623 287h1v1h-1zM626 289h1v1h-1zM627 290h1v1h-1zM628 291h1v1h-1zM637 296h1v1h-1zM645 293h1v1h-1zM646 294h1v2h-1zM647 296h1v2h-1zM648 298h1v3h-1zM649 301h1v2h-1zM650 303h1v3h-1zM651 306h1v2h-1zM652 308h1v2h-1zM653 310h1v2h-1zM654 312h1v2h-1zM655 314h1v1h-1zM656 315h1v2h-1zM657 317h1v1h-1zM658 318h1v2h-1zM659 320h1v1h-1zM660 321h1v2h-1zM661 323h1v1h-1zM662 324h1v1h-1zM663 325h1v1h-1zM666 327h1v1h-1zM667 328h1v1h-1zM668 329h1v1h-1zM669 330h1v1h-1zM670 331h1v2h-1zM671 333h1v2h-1zM672 335h1v1h-1zM673 336h1v2h-1zM674 338h1v1h-1zM675 339h1v2h-1zM676 341h1v2h-1zM677 343h1v1h-1zM678 344h1v1h-1zM679 345h1v1h-1zM680 346h1v1h-1zM681 347h1v2h-1zM682 349h1v1h-1zM683 350h1v1h-1zM684 351h1v1h-1zM685 352h1v1h-1zM698 354h1v1h-1zM710 354h1v2h-1zM711 352h1v2h-1zM712 350h1v2h-1zM713 349h1v1h-1zM714 347h1v2h-1zM715 345h1v2h-1zM716 343h1v2h-1zM717 342h1v1h-1zM718 339h1v3h-1zM719 338h1v1h-1zM720 335h1v3h-1zM721 334h1v1h-1zM722 331h1v3h-1zM723 330h1v1h-1zM724 327h1v3h-1zM725 326h1v1h-1zM726 324h1v2h-1zM727 322h1v2h-1zM728 320h1v2h-1zM729 318h1v2h-1zM730 316h1v2h-1zM731 314h1v2h-1zM732 312h1v2h-1zM733 310h1v2h-1zM734 306h1v4h-1zM735 303h1v3h-1zM736 300h1v3h-1zM737 296h1v4h-1zM738 293h1v3h-1zM739 290h1v3h-1zM740 286h1v4h-1zM741 283h1v3h-1zM742 279h1v4h-1zM743 275h1v4h-1zM744 271h1v4h-1zM745 268h1v3h-1zM746 264h1v4h-1zM747 260h1v4h-1zM748 256h1v4h-1zM749 253h1v3h-1zM750 250h1v3h-1zM751 247h1v3h-1zM752 244h1v3h-1zM753 241h1v3h-1zM754 238h1v3h-1zM755 235h1v3h-1zM756 232h1v3h-1zM757 230h1v2h-1zM758 228h1v2h-1zM759 226h1v2h-1zM760 224h1v2h-1zM761 223h1v1h-1zM762 221h1v2h-1zM763 219h1v2h-1zM764 217h1v2h-1zM765 216h1v1h-1zM766 215h1v1h-1zM767 213h1v2h-1zM768 212h1v1h-1zM769 211h1v1h-1zM770 210h1v1h-1zM771 208h1v2h-1zM772 207h1v1h-1zM773 206h1v1h-1zM774 205h1v1h-1zM775 204h1v1h-1zM776 203h1v1h-1zM777 202h1v1h-1zM778 201h1v1h-1zM779 200h1v1h-1zM780 199h1v1h-1zM784 199h1v1h-1zM785 200h1v1h-1zM788 202h1v1h-1zM789 203h1v1h-1zM790 204h1v2h-1zM791 206h1v2h-1zM792 208h1v2h-1zM793 210h1v1h-1zM794 211h1v2h-1zM795 213h1v2h-1zM796 215h1v2h-1zM797 217h1v1h-1zM798 218h1v2h-1zM799 220h1v2h-1zM800 222h1v2h-1zM801 224h1v1h-1zM802 225h1v2h-1zM803 227h1v2h-1zM804 229h1v2h-1zM805 231h1v1h-1zM806 232h1v1h-1zM807 233h1v2h-1zM808 235h1v1h-1zM809 236h1v1h-1zM810 237h1v1h-1zM811 238h1v2h-1zM812 240h1v1h-1zM813 241h1v1h-1zM814 242h1v1h-1zM815 243h1v1h-1zM816 244h1v1h-1zM817 245h1v1h-1zM818 246h1v1h-1zM819 247h1v1h-1zM822 249h1v1h-1zM825 251h1v1h-1zM828 253h1v1h-1zM846 255h1v1h-1zM847 254h1v1h-1zM848 253h1v1h-1zM851 251h1v1h-1zM854 249h1v1h-1zM855 248h1v1h-1zM856 247h1v1h-1zM857 246h1v1h-1zM858 245h1v1h-1zM859 244h1v1h-1zM860 243h1v1h-1zM861 242h1v1h-1zM862 241h1v1h-1zM863 240h1v1h-1zM864 239h1v1h-1zM865 238h1v1h-1zM866 237h1v1h-1zM867 236h1v1h-1zM868 235h1v1h-1zM869 234h1v1h-1zM870 232h1v2h-1zM871 230h1v2h-1zM872 228h1v2h-1zM873 227h1v1h-1zM874 225h1v2h-1zM875 223h1v2h-1zM876 221h1v2h-1zM877 220h1v1h-1zM878 219h1v1h-1zM879 218h1v1h-1zM880 217h1v1h-1zM881 215h1v2h-1zM882 214h1v1h-1zM883 213h1v1h-1zM884 212h1v1h-1zM885 211h1v1h-1zM886 210h1v1h-1zM887 209h1v1h-1zM888 208h1v1h-1zM889 207h1v1h-1zM890 206h1v1h-1zM891 205h1v1h-1zM892 204h1v1h-1zM902 203h1v1h-1zM903 204h1v1h-1zM904 205h1v1h-1zM905 206h1v1h-1zM906 207h1v1h-1zM907 208h1v1h-1zM908 209h1v1h-1zM911 211h1v1h-1zM912 212h1v1h-1zM913 213h1v1h-1zM916 215h1v1h-1zM917 216h1v1h-1z" fill="#0000cd" shape-rendering="crispEdges" />
<g shape-rendering="crispEdges">
<rect x="5" y="348" width="1" height="28" fill="#ff0000"/>
<rect x="3" y="357" width="5" height="15" fill="#ff0000"/>
<rect x="4" y="358" width="3" height="13" fill="#ff4500"/>
<rect x="13" y="334" width="1" height="38" fill="#ff0000"/>
<rect x="11" y="353" width="5" height="12" fill="#ff0000"/>
<rect x="12" y="354" width="3" height="10" fill="#ff4500"/>
<rect x="21" y="291" width="1" height="73" fill="#ff0000"/>
<rect x="19" y="314" width="5" height="40" fill="#ff0000"/>
<rect x="20" y="315" width="3" height="38" fill="#ff4500"/>
<rect x="29" y="262" width="1" height="58" fill="#ff0000"/>
<rect x="27" y="275" width="5" height="39" fill="#ff0000"/>
<rect x="28" y="276" width="3" height="37" fill="#ff4500"/>
<rect x="37" y="275" width="1" height="60" fill="#32cd32"/>
<rect x="35" y="275" width="5" height="52" fill="#32cd32"/>
<rect x="45" y="299" width="1" height="47" fill="#ff0000"/>
<rect x="43" y="314" width="5" height="13" fill="#ff0000"/>
<rect x="44" y="315" width="3" height="11" fill="#ff4500"/>
<rect x="53" y="311" width="1" height="33" fill="#32cd32"/>
<rect x="51" y="314" width="5" height="3" fill="#32cd32"/>
<rect x="61" y="311" width="1" height="32" fill="#ff0000"/>
<rect x="59" y="312" width="5" height="10" fill="#ff0000"/>
<rect x="60" y="313" width="3" height="8" fill="#ff4500"/>
<rect x="69" y="283" width="1" height="37" fill="#ff0000"/>
<rect x="67" y="285" width="5" height="28" fill="#ff0000"/>
<rect x="68" y="286" width="3" height="26" fill="#ff4500"/>
<rect x="77" y="237" width="1" height="51" fill="#ff0000"/>
<rect x="75" y="238" width="5" height="48" fill="#ff0000"/>
<rect x="76" y="239" width="3" height="46" fill="#ff4500"/>
<rect x="85" y="237" width="1" height="73" fill="#32cd32"/>
<rect x="83" y="238" width="5" height="48" fill="#32cd32"/>
<rect x="93" y="253" width="1" height="47" fill="#ff0000"/>
<rect x="91" y="279" width="5" height="8" fill="#ff0000"/>
<rect x="92" y="280" width="3" height="6" fill="#ff4500"/>
<rect x="101" y="265" width="1" height="22" fill="#32cd32"/>
<rect x="99" y="279" width="5" height="1" fill="#32cd32"/>
<rect x="109" y="293" width="1" height="68" fill="#32cd32"/>
<rect x="107" y="302" width="5" height="40" fill="#32cd32"/>
<rect x="117" y="323" width="1" height="35" fill="#ff0000"/>
<rect x="115" y="331" width="5" height="11" fill="#ff0000"/>
<rect x="116" y="332" width="3" height="9" fill="#ff4500"/>
<rect x="125" y="212" width="1" height="133" fill="#ff0000"/>
<rect x="123" y="226" width="5" height="106" fill="#ff0000"/>
<rect x="124" y="227" width="3" height="104" fill="#ff4500"/>
<rect x="133" y="185" width="1" height="57" fill="#ff0000"/>
<rect x="131" y="197" width="5" height="30" fill="#ff0000"/>
<rect x="132" y="198" width="3" height="28" fill="#ff4500"/>
<rect x="141" y="187" width="1" height="115" fill="#32cd32"/>
<rect x="139" y="198" width="5" height="81" fill="#32cd32"/>
<rect x="149" y="266" width="1" height="20" fill="#32cd32"/>
<rect x="147" y="278" width="5" height="7" fill="#32cd32"/>
<rect x="157" y="215" width="1" height="65" fill="#ff0000"/>
<rect x="155" y="217" width="5" height="40" fill="#ff0000"/>
<rect x="156" y="218" width="3" height="38" fill="#ff4500"/>
<rect x="165" y="199" width="1" height="27" fill="#ff0000"/>
<rect x="163" y="204" width="5" height="14" fill="#ff0000"/>
<rect x="164" y="205" width="3" height="12" fill="#ff4500"/>
<rect x="173" y="197" width="1" height="63" fill="#32cd32"/>
<rect x="171" y="203" width="5" height="51" fill="#32cd32"/>
<rect x="181" y="222" width="1" height="38" fill="#ff0000"/>
<rect x="179" y="240" width="5" height="14" fill="#ff0000"/>
<rect x="180" y="241" width="3" height="12" fill="#ff4500"/>
<rect x="189" y="211" width="1" height="40" fill="#ff0000"/>
<rect x="187" y="230" width="5" height="11" fill="#ff0000"/>
<rect x="188" y="231" width="3" height="9" fill="#ff4500"/>
<rect x="197" y="219" width="1" height="12" fill="#ff0000"/>
<rect x="195" y="229" width="5" height="2" fill="#ff0000"/>
<rect x="205" y="207" width="1" height="23" fill="#32cd32"/>
<rect x="203" y="224" width="5" height="3" fill="#32cd32"/>
<rect x="213" y="184" width="1" height="44" fill="#ff0000"/>
<rect x="211" y="185" width="5" height="42" fill="#ff0000"/>
<rect x="212" y="186" width="3" height="40" fill="#ff4500"/>
<rect x="221" y="152" width="1" height="51" fill="#32cd32"/>
<rect x="219" y="185" width="5" height="18" fill="#32cd32"/>
<rect x="229" y="146" width="1" height="57" fill="#ff0000"/>
<rect x="227" y="155" width="5" height="48" fill="#ff0000"/>
<rect x="228" y="156" width="3" height="46" fill="#ff4500"/>
<rect x="237" y="111" width="1" height="49" fill="#ff0000"/>
<rect x="235" y="118" width="5" height="38" fill="#ff0000"/>
<rect x="236" y="119" width="3" height="36" fill="#ff4500"/>
<rect x="245" y="92" width="1" height="30" fill="#ff0000"/>
<rect x="243" y="95" width="5" height="23" fill="#ff0000"/>
<rect x="244" y="96" width="3" height="21" fill="#ff4500"/>
<rect x="253" y="88" width="1" height="23" fill="#32cd32"/>
<rect x="251" y="93" width="5" height="5" fill="#32cd32"/>
<rect x="261" y="81" width="1" height="29" fill="#ff0000"/>
<rect x="259" y="96" width="5" height="3" fill="#ff0000"/>
<rect x="260" y="97" width="3" height="1" fill="#ff4500"/>
<rect x="269" y="78" width="1" height="25" fill="#ff0000"/>
<rect x="267" y="85" width="5" height="6" fill="#ff0000"/>
<rect x="268" y="86" width="3" height="4" fill="#ff4500"/>
<rect x="277" y="52" width="1" height="59" fill="#ff0000"/>
<rect x="275" y="65" width="5" height="21" fill="#ff0000"/>
<rect x="276" y="66" width="3" height="19" fill="#ff4500"/>
<rect x="285" y="52" width="1" height="41" fill="#32cd32"/>
<rect x="283" y="65" width="5" height="3" fill="#32cd32"/>
<rect x="293" y="58" width="1" height="24" fill="#ff0000"/>
<rect x="291" y="65" width="5" height="4" fill="#ff0000"/>
<rect x="292" y="66" width="3" height="2" fill="#ff4500"/>
<rect x="301" y="49" width="1" height="35" fill="#ff0000"/>
<rect x="299" y="57" width="5" height="15" fill="#ff0000"/>
<rect x="300" y="58" width="3" height="13" fill="#ff4500"/>
<rect x="309" y="51" width="1" height="24" fill="#32cd32"/>
<rect x="307" y="57" width="5" height="18" fill="#32cd32"/>
<rect x="317" y="51" width="1" height="58" fill="#32cd32"/>
<rect x="315" y="71" width="5" height="15" fill="#32cd32"/>
<rect x="325" y="55" width="1" height="91" fill="#32cd32"/>
<rect x="323" y="85" width="5" height="61" fill="#32cd32"/>
<rect x="333" y="140" width="1" height="83" fill="#32cd32"/>
<rect x="331" y="145" width="5" height="75" fill="#32cd32"/>
<rect x="341" y="199" width="1" height="26" fill="#ff0000"/>
<rect x="339" y="216" width="5" height="4" fill="#ff0000"/>
<rect x="340" y="217" width="3" height="2" fill="#ff4500"/>
<rect x="349" y="220" width="1" height="52" fill="#32cd32"/>
<rect x="347" y="221" width="5" height="45" fill="#32cd32"/>
<rect x="357" y="264" width="1" height="30" fill="#32cd32"/>
<rect x="355" y="265" width="5" height="16" fill="#32cd32"/>
<rect x="365" y="260" width="1" height="88" fill="#32cd32"/>
<rect x="363" y="281" width="5" height="31" fill="#32cd32"/>
<rect x="373" y="299" width="1" height="39" fill="#32cd32"/>
<rect x="371" y="311" width="5" height="7" fill="#32cd32"/>
<rect x="381" y="288" width="1" height="58" fill="#ff0000"/>
<rect x="379" y="302" width="5" height="16" fill="#ff0000"/>
<rect x="380" y="303" width="3" height="14" fill="#ff4500"/>
<rect x="389" y="290" width="1" height="15" fill="#ff0000"/>
<rect x="387" y="291" width="5" height="12" fill="#ff0000"/>
<rect x="388" y="292" width="3" height="10" fill="#ff4500"/>
<rect x="397" y="275" width="1" height="28" fill="#ff0000"/>
<rect x="395" y="295" width="5" height="5" fill="#ff0000"/>
<rect x="396" y="296" width="3" height="3" fill="#ff4500"/>
<rect x="405" y="283" width="1" height="37" fill="#32cd32"/>
<rect x="403" y="296" width="5" height="14" fill="#32cd32"/>
<rect x="413" y="277" width="1" height="37" fill="#ff0000"/>
<rect x="411" y="305" width="5" height="3" fill="#ff0000"/>
<rect x="412" y="306" width="3" height="1" fill="#ff4500"/>
<rect x="421" y="262" width="1" height="51" fill="#ff0000"/>
<rect x="419" y="277" width="5" height="29" fill="#ff0000"/>
<rect x="420" y="278" width="3" height="27" fill="#ff4500"/>
<rect x="429" y="270" width="1" height="49" fill="#32cd32"/>
<rect x="427" y="277" width="5" height="28" fill="#32cd32"/>
<rect x="437" y="289" width="1" height="23" fill="#ff0000"/>
<rect x="435" y="292" width="5" height="13" fill="#ff0000"/>
<rect x="436" y="293" width="3" height="11" fill="#ff4500"/>
<rect x="445" y="262" width="1" height="42" fill="#ff0000"/>
<rect x="443" y="279" width="5" height="19" fill="#ff0000"/>
<rect x="444" y="280" width="3" height="17" fill="#ff4500"/>
<rect x="453" y="240" width="1" height="44" fill="#ff0000"/>
<rect x="451" y="250" width="5" height="31" fill="#ff0000"/>
<rect x="452" y="251" width="3" height="29" fill="#ff4500"/>
<rect x="461" y="231" width="1" height="40" fill="#ff0000"/>
<rect x="459" y="239" width="5" height="12" fill="#ff0000"/>
<rect x="460" y="240" width="3" height="10" fill="#ff4500"/>
<rect x="469" y="227" width="1" height="29" fill="#32cd32"/>
<rect x="467" y="239" width="5" height="11" fill="#32cd32"/>
<rect x="477" y="235" width="1" height="78" fill="#32cd32"/>
<rect x="475" y="250" width="5" height="49" fill="#32cd32"/>
<rect x="485" y="293" width="1" height="25" fill="#32cd32"/>
<rect x="483" y="297" width="5" height="21" fill="#32cd32"/>
<rect x="493" y="282" width="1" height="52" fill="#ff0000"/>
<rect x="491" y="300" width="5" height="26" fill="#ff0000"/>
<rect x="492" y="301" width="3" height="24" fill="#ff4500"/>
<rect x="501" y="286" width="1" height="24" fill="#ff0000"/>
<rect x="499" y="291" width="5" height="10" fill="#ff0000"/>
<rect x="500" y="292" width="3" height="8" fill="#ff4500"/>
<rect x="509" y="283" width="1" height="59" fill="#32cd32"/>
<rect x="507" y="291" width="5" height="44" fill="#32cd32"/>
<rect x="517" y="329" width="1" height="57" fill="#32cd32"/>
<rect x="515" y="334" width="5" height="43" fill="#32cd32"/>
<rect x="525" y="361" width="1" height="46" fill="#32cd32"/>
<rect x="523" y="375" width="5" height="23" fill="#32cd32"/>
<rect x="533" y="395" width="1" height="22" fill="#32cd32"/>
<rect x="531" y="397" width="5" height="7" fill="#32cd32"/>
<rect x="541" y="367" width="1" height="39" fill="#ff0000"/>
<rect x="539" y="383" width="5" height="22" fill="#ff0000"/>
<rect x="540" y="384" width="3" height="20" fill="#ff4500"/>
<rect x="549" y="364" width="1" height="32" fill="#ff0000"/>
<rect x="547" y="377" width="5" height="6" fill="#ff0000"/>
<rect x="548" y="378" width="3" height="4" fill="#ff4500"/>
<rect x="557" y="330" width="1" height="53" fill="#ff0000"/>
<rect x="555" y="350" width="5" height="28" fill="#ff0000"/>
<rect x="556" y="351" width="3" height="26" fill="#ff4500"/>
<rect x="565" y="286" width="1" height="65" fill="#ff0000"/>
<rect x="563" y="297" width="5" height="54" fill="#ff0000"/>
<rect x="564" y="298" width="3" height="52" fill="#ff4500"/>
<rect x="573" y="256" width="1" height="60" fill="#ff0000"/>
<rect x="571" y="290" width="5" height="8" fill="#ff0000"/>
<rect x="572" y="291" width="3" height="6" fill="#ff4500"/>
<rect x="581" y="276" width="1" height="22" fill="#32cd32"/>
<rect x="579" y="290" width="5" height="3" fill="#32cd32"/>
<rect x="589" y="266" width="1" height="32" fill="#ff0000"/>
<rect x="587" y="267" width="5" height="28" fill="#ff0000"/>
<rect x="588" y="268" width="3" height="26" fill="#ff4500"/>
<rect x="597" y="262" width="1" height="47" fill="#32cd32"/>
<rect x="595" y="267" width="5" height="34" fill="#32cd32"/>
<rect x="605" y="296" width="1" height="42" fill="#32cd32"/>
<rect x="603" y="299" width="5" height="16" fill="#32cd32"/>
<rect x="613" y="249" width="1" height="74" fill="#ff0000"/>
<rect x="611" y="262" width="5" height="53" fill="#ff0000"/>
<rect x="612" y="263" width="3" height="51" fill="#ff4500"/>
<rect x="621" y="259" width="1" height="42" fill="#32cd32"/>
<rect x="619" y="262" width="5" height="24" fill="#32cd32"/>
<rect x="629" y="281" width="1" height="27" fill="#32cd32"/>
<rect x="627" y="285" width="5" height="20" fill="#32cd32"/>
<rect x="637" y="302" width="1" height="19" fill="#32cd32"/>
<rect x="635" y="304" width="5" height="9" fill="#32cd32"/>
<rect x="645" y="285" width="1" height="33" fill="#ff0000"/>
<rect x="643" y="299" width="5" height="14" fill="#ff0000"/>
<rect x="644" y="300" width="3" height="12" fill="#ff4500"/>
<rect x="653" y="297" width="1" height="59" fill="#32cd32"/>
<rect x="651" y="299" width="5" height="55" fill="#32cd32"/>
<rect x="661" y="331" width="1" height="36" fill="#ff0000"/>
<rect x="659" y="345" width="5" height="8" fill="#ff0000"/>
<rect x="660" y="346" width="3" height="6" fill="#ff4500"/>
<rect x="669" y="309" width="1" height="48" fill="#ff0000"/>
<rect x="667" y="343" width="5" height="2" fill="#ff0000"/>
<rect x="677" y="339" width="1" height="38" fill="#32cd32"/>
<rect x="675" y="344" width="5" height="30" fill="#32cd32"/>
<rect x="685" y="344" width="1" height="46" fill="#ff0000"/>
<rect x="683" y="351" width="5" height="26" fill="#ff0000"/>
<rect x="684" y="352" width="3" height="24" fill="#ff4500"/>
<rect x="693" y="313" width="1" height="41" fill="#ff0000"/>
<rect x="691" y="337" width="5" height="15" fill="#ff0000"/>
<rect x="692" y="338" width="3" height="13" fill="#ff4500"/>
<rect x="701" y="335" width="1" height="51" fill="#32cd32"/>
<rect x="699" y="337" width="5" height="33" fill="#32cd32"/>
<rect x="709" y="331" width="1" height="42" fill="#ff0000"/>
<rect x="707" y="356" width="5" height="15" fill="#ff0000"/>
<rect x="708" y="357" width="3" height="13" fill="#ff4500"/>
<rect x="717" y="303" width="1" height="76" fill="#ff0000"/>
<rect x="715" y="308" width="5" height="49" fill="#ff0000"/>
<rect x="716" y="309" width="3" height="47" fill="#ff4500"/>
<rect x="725" y="271" width="1" height="41" fill="#ff0000"/>
<rect x="723" y="273" width="5" height="36" fill="#ff0000"/>
<rect x="724" y="274" width="3" height="34" fill="#ff4500"/>
<rect x="733" y="258" width="1" height="32" fill="#ff0000"/>
<rect x="731" y="260" width="5" height="28" fill="#ff0000"/>
<rect x="732" y="261" width="3" height="26" fill="#ff4500"/>
<rect x="741" y="237" width="1" height="36" fill="#ff0000"/>
<rect x="739" y="246" width="5" height="14" fill="#ff0000"/>
<rect x="740" y="247" width="3" height="12" fill="#ff4500"/>
<rect x="749" y="177" width="1" height="77" fill="#ff0000"/>
<rect x="747" y="199" width="5" height="47" fill="#ff0000"/>
<rect x="748" y="200" width="3" height="45" fill="#ff4500"/>
<rect x="757" y="182" width="1" height="23" fill="#ff0000"/>
<rect x="755" y="190" width="5" height="10" fill="#ff0000"/>
<rect x="756" y="191" width="3" height="8" fill="#ff4500"/>
<rect x="765" y="170" width="1" height="48" fill="#ff0000"/>
<rect x="763" y="188" width="5" height="4" fill="#ff0000"/>
<rect x="764" y="189" width="3" height="2" fill="#ff4500"/>
<rect x="773" y="188" width="1" height="23" fill="#32cd32"/>
<rect x="771" y="188" width="5" height="18" fill="#32cd32"/>
<rect x="781" y="188" width="1" height="28" fill="#32cd32"/>
<rect x="779" y="200" width="5" height="2" fill="#32cd32"/>
<rect x="789" y="199" width="1" height="32" fill="#32cd32"/>
<rect x="787" y="201" width="5" height="24" fill="#32cd32"/>
<rect x="797" y="222" width="1" height="45" fill="#32cd32"/>
<rect x="795" y="224" width="5" height="39" fill="#32cd32"/>
<rect x="805" y="244" width="1" height="38" fill="#32cd32"/>
<rect x="803" y="262" width="5" height="3" fill="#32cd32"/>
<rect x="813" y="230" width="1" height="52" fill="#ff0000"/>
<rect x="811" y="252" width="5" height="13" fill="#ff0000"/>
<rect x="812" y="253" width="3" height="11" fill="#ff4500"/>
<rect x="821" y="245" width="1" height="12" fill="#ff0000"/>
<rect x="819" y="246" width="5" height="7" fill="#ff0000"/>
<rect x="820" y="247" width="3" height="5" fill="#ff4500"/>
<rect x="829" y="236" width="1" height="38" fill="#ff0000"/>
<rect x="827" y="247" width="5" height="1" fill="#ff0000"/>
<rect x="837" y="233" width="1" height="72" fill="#32cd32"/>
<rect x="835" y="247" width="5" height="31" fill="#32cd32"/>
<rect x="845" y="244" width="1" height="34" fill="#ff0000"/>
<rect x="843" y="257" width="5" height="21" fill="#ff0000"/>
<rect x="844" y="258" width="3" height="19" fill="#ff4500"/>
<rect x="853" y="225" width="1" height="76" fill="#ff0000"/>
<rect x="851" y="231" width="5" height="27" fill="#ff0000"/>
<rect x="852" y="232" width="3" height="25" fill="#ff4500"/>
<rect x="861" y="196" width="1" height="45" fill="#ff0000"/>
<rect x="859" y="208" width="5" height="24" fill="#ff0000"/>
<rect x="860" y="209" width="3" height="22" fill="#ff4500"/>
<rect x="869" y="197" width="1" height="15" fill="#ff0000"/>
<rect x="867" y="203" width="5" height="6" fill="#ff0000"/>
<rect x="868" y="204" width="3" height="4" fill="#ff4500"/>
<rect x="877" y="185" width="1" height="28" fill="#32cd32"/>
<rect x="875" y="196" width="5" height="5" fill="#32cd32"/>
<rect x="885" y="193" width="1" height="37" fill="#32cd32"/>
<rect x="883" y="200" width="5" height="19" fill="#32cd32"/>
<rect x="893" y="191" width="1" height="39" fill="#ff0000"/>
<rect x="891" y="191" width="5" height="28" fill="#ff0000"/>
<rect x="892" y="192" width="3" height="26" fill="#ff4500"/>
<rect x="901" y="188" width="1" height="27" fill="#32cd32"/>
<rect x="899" y="191" width="5" height="7" fill="#32cd32"/>
<rect x="909" y="181" width="1" height="68" fill="#32cd32"/>
<rect x="907" y="197" width="5" height="40" fill="#32cd32"/>
<rect x="917" y="228" width="1" height="15" fill="#32cd32"/>
<rect x="915" y="236" width="5" height="6" fill="#32cd32"/>
</g>
<g shape-rendering="crispEdges">
<rect x="688" y="163" width="286" height="2" fill="#ff2222"/>
<rect x="688" y="278" width="288" height="2" fill="#9acb0c"/>
<rect x="692" y="340" width="289" height="2" fill="#2e8ce0"/>
</g>
</g>
<g shape-rendering="crispEdges">
<rect x="4" y="454" width="3" height="14" fill="#c0c0c0"/>
<rect x="12" y="455" width="3" height="13" fill="#c0c0c0"/>
<rect x="20" y="454" width="3" height="14" fill="#c0c0c0"/>
<rect x="28" y="453" width="3" height="15" fill="#c0c0c0"/>
<rect x="36" y="453" width="3" height="15" fill="#c0c0c0"/>
<rect x="44" y="453" width="3" height="15" fill="#c0c0c0"/>
<rect x="52" y="454" width="3" height="14" fill="#c0c0c0"/>
<rect x="60" y="454" width="3" height="14" fill="#c0c0c0"/>
<rect x="68" y="454" width="3" height="14" fill="#c0c0c0"/>
<rect x="76" y="450" width="3" height="18" fill="#c0c0c0"/>
<rect x="84" y="450" width="3" height="18" fill="#c0c0c0"/>
<rect x="92" y="450" width="3" height="18" fill="#c0c0c0"/>
<rect x="100" y="451" width="3" height="17" fill="#c0c0c0"/>
<rect x="108" y="454" width="3" height="14" fill="#c0c0c0"/>
<rect x="116" y="456" width="3" height="12" fill="#c0c0c0"/>
<rect x="124" y="453" width="3" height="15" fill="#c0c0c0"/>
<rect x="132" y="450" width="3" height="18" fill="#c0c0c0"/>
<rect x="140" y="451" width="3" height="17" fill="#c0c0c0"/>
<rect x="148" y="452" width="3" height="16" fill="#c0c0c0"/>
<rect x="156" y="451" width="3" height="17" fill="#c0c0c0"/>
<rect x="164" y="449" width="3" height="19" fill="#c0c0c0"/>
<rect x="172" y="450" width="3" height="18" fill="#c0c0c0"/>
<rect x="180" y="450" width="3" height="18" fill="#c0c0c0"/>
<rect x="188" y="450" width="3" height="18" fill="#c0c0c0"/>
<rect x="196" y="451" width="3" height="17" fill="#c0c0c0"/>
<rect x="204" y="451" width="3" height="17" fill="#c0c0c0"/>
<rect x="212" y="449" width="3" height="19" fill="#c0c0c0"/>
<rect x="220" y="449" width="3" height="19" fill="#c0c0c0"/>
<rect x="228" y="447" width="3" height="21" fill="#c0c0c0"/>
<rect x="236" y="444" width="3" height="24" fill="#c0c0c0"/>
<rect x="244" y="440" width="3" height="28" fill="#c0c0c0"/>
<rect x="252" y="438" width="3" height="30" fill="#c0c0c0"/>
<rect x="260" y="437" width="3" height="31" fill="#c0c0c0"/>
<rect x="268" y="435" width="3" height="33" fill="#c0c0c0"/>
<rect x="276" y="434" width="3" height="34" fill="#c0c0c0"/>
<rect x="284" y="433" width="3" height="35" fill="#c0c0c0"/>
<rect x="292" y="433" width="3" height="35" fill="#c0c0c0"/>
<rect x="300" y="432" width="3" height="36" fill="#c0c0c0"/>
<rect x="308" y="434" width="3" height="34" fill="#c0c0c0"/>
<rect x="316" y="435" width="3" height="33" fill="#c0c0c0"/>
<rect x="324" y="440" width="3" height="28" fill="#c0c0c0"/>
<rect x="332" y="447" width="3" height="21" fill="#c0c0c0"/>
<rect x="340" y="453" width="3" height="15" fill="#c0c0c0"/>
<rect x="348" y="461" width="3" height="7" fill="#c0c0c0"/>
<rect x="356" y="467" width="3" height="1" fill="#c0c0c0"/>
<rect x="364" y="468" width="3" height="7" fill="#c0c0c0"/>
<rect x="372" y="468" width="3" height="12" fill="#c0c0c0"/>
<rect x="380" y="468" width="3" height="15" fill="#c0c0c0"/>
<rect x="388" y="468" width="3" height="17" fill="#c0c0c0"/>
<rect x="396" y="468" width="3" height="18" fill="#c0c0c0"/>
<rect x="404" y="468" width="3" height="20" fill="#c0c0c0"/>
<rect x="412" y="468" width="3" height="20" fill="#c0c0c0"/>
<rect x="420" y="468" width="3" height="20" fill="#c0c0c0"/>
<rect x="428" y="468" width="3" height="20" fill="#c0c0c0"/>
<rect x="436" y="468" width="3" height="20" fill="#c0c0c0"/>
<rect x="444" y="468" width="3" height="18" fill="#c0c0c0"/>
<rect x="452" y="468" width="3" height="17" fill="#c0c0c0"/>
<rect x="460" y="468" width="3" height="13" fill="#c0c0c0"/>
<rect x="468" y="468" width="3" height="12" fill="#c0c0c0"/>
<rect x="476" y="468" width="3" height="13" fill="#c0c0c0"/>
<rect x="484" y="468" width="3" height="15" fill="#c0c0c0"/>
<rect x="492" y="468" width="3" height="15" fill="#c0c0c0"/>
<rect x="500" y="468" width="3" height="13" fill="#c0c0c0"/>
<rect x="508" y="468" width="3" height="16" fill="#c0c0c0"/>
<rect x="516" y="468" width="3" height="18" fill="#c0c0c0"/>
<rect x="524" y="468" width="3" height="22" fill="#c0c0c0"/>
<rect x="532" y="468" width="3" height="25" fill="#c0c0c0"/>
<rect x="540" y="468" width="3" height="25" fill="#c0c0c0"/>
<rect x="548" y="468" width="3" height="25" fill="#c0c0c0"/>
<rect x="556" y="468" width="3" height="23" fill="#c0c0c0"/>
<rect x="564" y="468" width="3" height="20" fill="#c0c0c0"/>
<rect x="572" y="468" width="3" height="16" fill="#c0c0c0"/>
<rect x="580" y="468" width="3" height="13" fill="#c0c0c0"/>
<rect x="588" y="468" width="3" height="10" fill="#c0c0c0"/>
<rect x="596" y="468" width="3" height="8" fill="#c0c0c0"/>
<rect x="604" y="468" width="3" height="8" fill="#c0c0c0"/>
<rect x="612" y="468" width="3" height="5" fill="#c0c0c0"/>
<rect x="620" y="468" width="3" height="4" fill="#c0c0c0"/>
<rect x="628" y="468" width="3" height="4" fill="#c0c0c0"/>
<rect x="636" y="468" width="3" height="4" fill="#c0c0c0"/>
<rect x="644" y="468" width="3" height="3" fill="#c0c0c0"/>
<rect x="652" y="468" width="3" height="5" fill="#c0c0c0"/>
<rect x="660" y="468" width="3" height="7" fill="#c0c0c0"/>
<rect x="668" y="468" width="3" height="8" fill="#c0c0c0"/>
<rect x="676" y="468" width="3" height="10" fill="#c0c0c0"/>
<rect x="684" y="468" width="3" height="10" fill="#c0c0c0"/>
<rect x="692" y="468" width="3" height="10" fill="#c0c0c0"/>
<rect x="700" y="468" width="3" height="10" fill="#c0c0c0"/>
<rect x="708" y="468" width="3" height="10" fill="#c0c0c0"/>
<rect x="716" y="468" width="3" height="8" fill="#c0c0c0"/>
<rect x="724" y="468" width="3" height="5" fill="#c0c0c0"/>
<rect x="732" y="468" width="3" height="2" fill="#c0c0c0"/>
<rect x="740" y="465" width="3" height="3" fill="#c0c0c0"/>
<rect x="748" y="461" width="3" height="7" fill="#c0c0c0"/>
<rect x="756" y="456" width="3" height="12" fill="#c0c0c0"/>
<rect x="764" y="453" width="3" height="15" fill="#c0c0c0"/>
<rect x="772" y="452" width="3" height="16" fill="#c0c0c0"/>
<rect x="780" y="450" width="3" height="18" fill="#c0c0c0"/>
<rect x="788" y="451" width="3" height="17" fill="#c0c0c0"/>
<rect x="796" y="453" width="3" height="15" fill="#c0c0c0"/>
<rect x="804" y="455" width="3" height="13" fill="#c0c0c0"/>
<rect x="812" y="456" width="3" height="12" fill="#c0c0c0"/>
<rect x="820" y="457" width="3" height="11" fill="#c0c0c0"/>
<rect x="828" y="458" width="3" height="10" fill="#c0c0c0"/>
<rect x="836" y="460" width="3" height="8" fill="#c0c0c0"/>
<rect x="844" y="461" width="3" height="7" fill="#c0c0c0"/>
<rect x="852" y="461" width="3" height="7" fill="#c0c0c0"/>
<rect x="860" y="459" width="3" height="9" fill="#c0c0c0"/>
<rect x="868" y="458" width="3" height="10" fill="#c0c0c0"/>
<rect x="876" y="457" width="3" height="11" fill="#c0c0c0"/>
<rect x="884" y="457" width="3" height="11" fill="#c0c0c0"/>
<rect x="892" y="457" width="3" height="11" fill="#c0c0c0"/>
<rect x="900" y="457" width="3" height="11" fill="#c0c0c0"/>
<rect x="908" y="457" width="3" height="11" fill="#c0c0c0"/>
<rect x="916" y="459" width="3" height="9" fill="#c0c0c0"/>
</g>
<path d="M306 435h23v1h-23zM300 436h6v1h-6zM329 436h7v1h-7zM296 437h4v1h-4zM336 437h5v1h-5zM291 438h5v1h-5zM341 438h3v1h-3zM286 439h5v1h-5zM344 439h2v1h-2zM280 440h6v1h-6zM346 440h3v1h-3zM274 441h6v1h-6zM349 441h2v1h-2zM269 442h5v1h-5zM351 442h3v1h-3zM266 443h3v1h-3zM354 443h2v1h-2zM261 444h5v1h-5zM356 444h2v1h-2zM258 445h3v1h-3zM358 445h2v1h-2zM253 446h5v1h-5zM360 446h2v1h-2zM247 447h6v1h-6zM362 447h2v1h-2zM240 448h7v1h-7zM364 448h2v1h-2zM230 449h10v1h-10zM205 450h25v1h-25zM367 450h2v1h-2zM174 451h31v1h-31zM29 452h145v1h-145zM370 452h2v1h-2zM5 453h24v1h-24zM373 454h2v1h-2zM809 454h25v1h-25zM803 455h6v1h-6zM834 455h7v1h-7zM376 456h2v1h-2zM797 456h6v1h-6zM841 456h9v1h-9zM794 457h3v1h-3zM850 457h8v1h-8zM791 458h3v1h-3zM858 458h14v1h-14zM881 458h37v1h-37zM787 459h4v1h-4zM872 459h9v1h-9zM381 460h2v1h-2zM784 460h3v1h-3zM383 461h2v1h-2zM782 461h2v1h-2zM779 462h3v1h-3zM386 463h2v1h-2zM776 463h3v1h-3zM388 464h2v1h-2zM773 464h3v1h-3zM770 465h3v1h-3zM391 466h2v1h-2zM767 466h3v1h-3zM764 467h3v1h-3zM394 468h2v1h-2zM761 468h3v1h-3zM758 469h3v1h-3zM397 470h2v1h-2zM755 470h3v1h-3zM399 471h2v1h-2zM752 471h3v1h-3zM653 472h23v1h-23zM749 472h3v1h-3zM402 473h2v1h-2zM646 473h7v1h-7zM676 473h15v1h-15zM743 473h6v1h-6zM404 474h2v1h-2zM637 474h9v1h-9zM691 474h8v1h-8zM739 474h4v1h-4zM634 475h3v1h-3zM699 475h8v1h-8zM735 475h4v1h-4zM407 476h2v1h-2zM629 476h5v1h-5zM707 476h28v1h-28zM409 477h2v1h-2zM625 477h4v1h-4zM411 478h2v1h-2zM621 478h4v1h-4zM413 479h2v1h-2zM617 479h4v1h-4zM415 480h3v1h-3zM613 480h4v1h-4zM418 481h2v1h-2zM610 481h3v1h-3zM420 482h3v1h-3zM505 482h17v1h-17zM607 482h3v1h-3zM423 483h4v1h-4zM486 483h19v1h-19zM522 483h7v1h-7zM604 483h3v1h-3zM427 484h4v1h-4zM477 484h9v1h-9zM529 484h8v1h-8zM600 484h4v1h-4zM431 485h5v1h-5zM470 485h7v1h-7zM537 485h7v1h-7zM597 485h3v1h-3zM436 486h34v1h-34zM544 486h6v1h-6zM589 486h8v1h-8zM550 487h7v1h-7zM582 487h7v1h-7zM557 488h25v1h-25zM366 449h1v1h-1zM369 451h1v1h-1zM372 453h1v1h-1zM375 455h1v1h-1zM378 457h1v1h-1zM379 458h1v1h-1zM380 459h1v1h-1zM385 462h1v1h-1zM390 465h1v1h-1zM393 467h1v1h-1zM396 469h1v1h-1zM401 472h1v1h-1zM406 475h1v1h-1z" fill="#ff0000" shape-rendering="crispEdges" />
<g shape-rendering="crispEdges">
<line x1="5" y1="524.5" x2="1167" y2="524.5" stroke="#c0c0c0" stroke-width="1" stroke-dasharray="3,3"/>
<line x1="5" y1="557.5" x2="1167" y2="557.5" stroke="#c0c0c0" stroke-width="1" stroke-dasharray="3,3"/>
</g>
<path d="M295 522h8v1h-8zM271 523h24v1h-24zM303 523h2v1h-2zM264 524h7v1h-7zM305 524h2v1h-2zM241 525h23v1h-23zM307 525h2v1h-2zM28 526h2v1h-2zM75 526h2v1h-2zM236 526h5v1h-5zM309 526h3v1h-3zM754 526h13v1h-13zM26 527h2v1h-2zM234 527h2v1h-2zM312 527h4v1h-4zM749 527h5v1h-5zM767 527h3v1h-3zM23 528h3v1h-3zM72 528h2v1h-2zM131 528h3v1h-3zM231 528h3v1h-3zM316 528h2v1h-2zM747 528h2v1h-2zM770 528h2v1h-2zM21 529h2v1h-2zM126 529h5v1h-5zM229 529h2v1h-2zM745 529h2v1h-2zM772 529h11v1h-11zM69 530h2v1h-2zM227 530h2v1h-2zM783 530h2v1h-2zM18 531h2v1h-2zM67 531h2v1h-2zM162 531h4v1h-4zM212 531h4v1h-4zM224 531h3v1h-3zM742 531h2v1h-2zM785 531h2v1h-2zM866 531h13v1h-13zM894 531h6v1h-6zM65 532h2v1h-2zM157 532h5v1h-5zM166 532h2v1h-2zM209 532h3v1h-3zM216 532h5v1h-5zM222 532h2v1h-2zM737 532h5v1h-5zM787 532h2v1h-2zM861 532h5v1h-5zM879 532h2v1h-2zM890 532h2v1h-2zM900 532h2v1h-2zM62 533h3v1h-3zM89 533h13v1h-13zM206 533h3v1h-3zM730 533h7v1h-7zM789 533h2v1h-2zM858 533h3v1h-3zM881 533h2v1h-2zM888 533h2v1h-2zM14 534h2v1h-2zM39 534h23v1h-23zM85 534h4v1h-4zM154 534h2v1h-2zM199 534h7v1h-7zM724 534h6v1h-6zM855 534h3v1h-3zM883 534h2v1h-2zM886 534h2v1h-2zM12 535h2v1h-2zM37 535h2v1h-2zM170 535h2v1h-2zM187 535h12v1h-12zM588 535h2v1h-2zM722 535h2v1h-2zM853 535h2v1h-2zM7 536h5v1h-5zM176 536h11v1h-11zM586 536h2v1h-2zM590 536h2v1h-2zM613 536h2v1h-2zM720 536h2v1h-2zM851 536h2v1h-2zM5 537h2v1h-2zM142 537h5v1h-5zM150 537h2v1h-2zM173 537h3v1h-3zM584 537h2v1h-2zM592 537h2v1h-2zM615 537h2v1h-2zM718 537h2v1h-2zM794 537h2v1h-2zM815 537h16v1h-16zM849 537h2v1h-2zM147 538h3v1h-3zM570 538h8v1h-8zM582 538h2v1h-2zM594 538h2v1h-2zM610 538h2v1h-2zM617 538h3v1h-3zM809 538h6v1h-6zM847 538h2v1h-2zM565 539h5v1h-5zM578 539h4v1h-4zM620 539h3v1h-3zM715 539h2v1h-2zM797 539h12v1h-12zM832 539h2v1h-2zM844 539h3v1h-3zM459 540h5v1h-5zM597 540h3v1h-3zM623 540h5v1h-5zM644 540h2v1h-2zM842 540h2v1h-2zM909 540h9v1h-9zM110 541h7v1h-7zM454 541h5v1h-5zM464 541h5v1h-5zM600 541h3v1h-3zM606 541h2v1h-2zM628 541h5v1h-5zM640 541h4v1h-4zM839 541h3v1h-3zM451 542h3v1h-3zM469 542h2v1h-2zM603 542h3v1h-3zM633 542h7v1h-7zM836 542h3v1h-3zM692 543h3v1h-3zM447 544h3v1h-3zM689 544h3v1h-3zM695 544h2v1h-2zM473 545h2v1h-2zM500 545h2v1h-2zM650 545h2v1h-2zM687 545h2v1h-2zM697 545h2v1h-2zM706 545h4v1h-4zM442 546h4v1h-4zM495 546h5v1h-5zM658 546h13v1h-13zM684 546h3v1h-3zM699 546h2v1h-2zM702 546h4v1h-4zM337 547h5v1h-5zM438 547h4v1h-4zM491 547h4v1h-4zM503 547h2v1h-2zM653 547h5v1h-5zM671 547h2v1h-2zM682 547h2v1h-2zM333 548h4v1h-4zM342 548h2v1h-2zM422 548h3v1h-3zM435 548h3v1h-3zM477 548h4v1h-4zM489 548h2v1h-2zM555 548h2v1h-2zM673 548h3v1h-3zM679 548h3v1h-3zM344 549h2v1h-2zM418 549h2v1h-2zM425 549h2v1h-2zM432 549h3v1h-3zM481 549h4v1h-4zM486 549h3v1h-3zM506 549h2v1h-2zM553 549h2v1h-2zM676 549h3v1h-3zM427 550h5v1h-5zM508 550h2v1h-2zM551 550h2v1h-2zM347 551h2v1h-2zM349 552h5v1h-5zM385 552h17v1h-17zM414 552h2v1h-2zM511 552h2v1h-2zM544 552h6v1h-6zM354 553h5v1h-5zM380 553h5v1h-5zM402 553h12v1h-12zM513 553h2v1h-2zM540 553h4v1h-4zM359 554h3v1h-3zM377 554h3v1h-3zM515 554h2v1h-2zM538 554h2v1h-2zM362 555h2v1h-2zM375 555h2v1h-2zM517 555h5v1h-5zM536 555h2v1h-2zM364 556h11v1h-11zM522 556h9v1h-9zM534 556h2v1h-2zM531 557h3v1h-3zM16 533h1v1h-1zM17 532h1v1h-1zM20 530h1v1h-1zM30 527h1v1h-1zM31 528h1v1h-1zM32 529h1v1h-1zM33 530h1v2h-1zM34 532h1v1h-1zM35 533h1v1h-1zM36 534h1v1h-1zM71 529h1v1h-1zM74 527h1v1h-1zM77 525h1v1h-1zM78 526h1v1h-1zM79 527h1v1h-1zM80 528h1v1h-1zM81 529h1v2h-1zM82 531h1v1h-1zM83 532h1v1h-1zM84 533h1v1h-1zM102 534h1v1h-1zM103 535h1v1h-1zM104 536h1v1h-1zM105 537h1v2h-1zM106 539h1v1h-1zM107 540h1v1h-1zM108 541h1v1h-1zM109 542h1v1h-1zM117 540h1v1h-1zM118 539h1v1h-1zM119 537h1v2h-1zM120 536h1v1h-1zM121 535h1v1h-1zM122 534h1v1h-1zM123 532h1v2h-1zM124 531h1v1h-1zM125 530h1v1h-1zM134 529h1v1h-1zM135 530h1v1h-1zM136 531h1v1h-1zM137 532h1v1h-1zM138 533h1v1h-1zM139 534h1v1h-1zM140 535h1v1h-1zM141 536h1v1h-1zM152 536h1v1h-1zM153 535h1v1h-1zM156 533h1v1h-1zM168 533h1v1h-1zM169 534h1v1h-1zM172 536h1v1h-1zM221 533h1v1h-1zM318 529h1v1h-1zM319 530h1v2h-1zM320 532h1v1h-1zM321 533h1v1h-1zM322 534h1v1h-1zM323 535h1v2h-1zM324 537h1v1h-1zM325 538h1v1h-1zM326 539h1v1h-1zM327 540h1v2h-1zM328 542h1v1h-1zM329 543h1v1h-1zM330 544h1v1h-1zM331 545h1v2h-1zM332 547h1v1h-1zM346 550h1v1h-1zM416 551h1v1h-1zM417 550h1v1h-1zM420 548h1v1h-1zM421 547h1v1h-1zM446 545h1v1h-1zM450 543h1v1h-1zM471 543h1v1h-1zM472 544h1v1h-1zM475 546h1v1h-1zM476 547h1v1h-1zM485 550h1v1h-1zM502 546h1v1h-1zM505 548h1v1h-1zM510 551h1v1h-1zM550 551h1v1h-1zM557 547h1v1h-1zM558 546h1v1h-1zM559 545h1v1h-1zM560 544h1v1h-1zM561 543h1v1h-1zM562 542h1v1h-1zM563 541h1v1h-1zM564 540h1v1h-1zM596 539h1v1h-1zM608 540h1v1h-1zM609 539h1v1h-1zM612 537h1v1h-1zM646 541h1v1h-1zM647 542h1v1h-1zM648 543h1v1h-1zM649 544h1v1h-1zM652 546h1v1h-1zM701 547h1v1h-1zM710 544h1v1h-1zM711 543h1v1h-1zM712 542h1v1h-1zM713 541h1v1h-1zM714 540h1v1h-1zM717 538h1v1h-1zM744 530h1v1h-1zM791 534h1v1h-1zM792 535h1v1h-1zM793 536h1v1h-1zM796 538h1v1h-1zM831 538h1v1h-1zM834 540h1v1h-1zM835 541h1v1h-1zM885 535h1v1h-1zM892 531h1v1h-1zM893 530h1v1h-1zM902 533h1v1h-1zM903 534h1v1h-1zM904 535h1v1h-1zM905 536h1v1h-1zM906 537h1v1h-1zM907 538h1v1h-1zM908 539h1v1h-1z" fill="#1e90ff" shape-rendering="crispEdges" />
<g shape-rendering="crispEdges">
<rect x="1168" y="60" width="3" height="1" fill="#000"/>
<rect x="1168" y="93" width="3" height="1" fill="#000"/>
<rect x="1168" y="126" width="3" height="1" fill="#000"/>
<rect x="1168" y="159" width="3" height="1" fill="#000"/>
<rect x="1168" y="192" width="3" height="1" fill="#000"/>
<rect x="1168" y="225" width="3" height="1" fill="#000"/>
<rect x="1168" y="258" width="3" height="1" fill="#000"/>
<rect x="1168" y="291" width="3" height="1" fill="#000"/>
<rect x="1168" y="324" width="3" height="1" fill="#000"/>
<rect x="1168" y="357" width="3" height="1" fill="#000"/>
<rect x="1168" y="390" width="3" height="1" fill="#000"/>
<rect x="1168" y="423" width="3" height="1" fill="#000"/>
<rect x="1168" y="468" width="2" height="1" fill="#000"/>
<rect x="1169" y="236" width="41" height="11" fill="#000"/>
<rect x="5" y="582" width="1" height="4" fill="#000"/>
<rect x="69" y="582" width="1" height="4" fill="#000"/>
<rect x="133" y="582" width="1" height="4" fill="#000"/>
<rect x="197" y="582" width="1" height="4" fill="#000"/>
<rect x="261" y="582" width="1" height="4" fill="#000"/>
<rect x="325" y="582" width="1" height="4" fill="#000"/>
<rect x="389" y="582" width="1" height="4" fill="#000"/>
<rect x="453" y="582" width="1" height="4" fill="#000"/>
<rect x="517" y="582" width="1" height="4" fill="#000"/>
<rect x="581" y="582" width="1" height="4" fill="#000"/>
<rect x="645" y="582" width="1" height="4" fill="#000"/>
<rect x="709" y="582" width="1" height="4" fill="#000"/>
<rect x="773" y="582" width="1" height="4" fill="#000"/>
<rect x="837" y="582" width="1" height="4" fill="#000"/>
<rect x="901" y="582" width="1" height="4" fill="#000"/>
</g>
<text x="1173.5" y="63.9" font-size="10.2" fill="#000" stroke="#000" stroke-width="0.18" textLength="32.2" lengthAdjust="spacingAndGlyphs" >1.36460</text>
<text x="1173.5" y="96.9" font-size="10.2" fill="#000" stroke="#000" stroke-width="0.18" textLength="32.2" lengthAdjust="spacingAndGlyphs" >1.35920</text>
<text x="1173.5" y="129.9" font-size="10.2" fill="#000" stroke="#000" stroke-width="0.18" textLength="32.2" lengthAdjust="spacingAndGlyphs" >1.35380</text>
<text x="1173.5" y="162.9" font-size="10.2" fill="#000" stroke="#000" stroke-width="0.18" textLength="32.2" lengthAdjust="spacingAndGlyphs" >1.34855</text>
<text x="1173.5" y="195.9" font-size="10.2" fill="#000" stroke="#000" stroke-width="0.18" textLength="32.2" lengthAdjust="spacingAndGlyphs" >1.34315</text>
<text x="1173.5" y="228.9" font-size="10.2" fill="#000" stroke="#000" stroke-width="0.18" textLength="32.2" lengthAdjust="spacingAndGlyphs" >1.33775</text>
<text x="1173.5" y="261.9" font-size="10.2" fill="#000" stroke="#000" stroke-width="0.18" textLength="32.2" lengthAdjust="spacingAndGlyphs" >1.33235</text>
<text x="1173.5" y="294.9" font-size="10.2" fill="#000" stroke="#000" stroke-width="0.18" textLength="32.2" lengthAdjust="spacingAndGlyphs" >1.32710</text>
<text x="1173.5" y="327.9" font-size="10.2" fill="#000" stroke="#000" stroke-width="0.18" textLength="32.2" lengthAdjust="spacingAndGlyphs" >1.32170</text>
<text x="1173.5" y="360.9" font-size="10.2" fill="#000" stroke="#000" stroke-width="0.18" textLength="32.2" lengthAdjust="spacingAndGlyphs" >1.31630</text>
<text x="1173.5" y="393.9" font-size="10.2" fill="#000" stroke="#000" stroke-width="0.18" textLength="32.2" lengthAdjust="spacingAndGlyphs" >1.31090</text>
<text x="1173.5" y="426.9" font-size="10.2" fill="#000" stroke="#000" stroke-width="0.18" textLength="32.2" lengthAdjust="spacingAndGlyphs" >1.30565</text>
<text x="1173.5" y="245.0" font-size="10.2" fill="#fff" stroke="#fff" stroke-width="0.15" textLength="32.2" lengthAdjust="spacingAndGlyphs" >1.33525</text>
<text x="1171.3" y="439.2" font-size="10.2" fill="#000" stroke="#000" stroke-width="0.18" textLength="37.6" lengthAdjust="spacingAndGlyphs" >0.010525</text>
<text x="1171.3" y="471.8" font-size="10.2" fill="#000" stroke="#000" stroke-width="0.18" textLength="17.4" lengthAdjust="spacingAndGlyphs" >0.00</text>
<text x="1171.3" y="493.3" font-size="10.2" fill="#000" stroke="#000" stroke-width="0.18" textLength="30.7" lengthAdjust="spacingAndGlyphs" >-0.0073</text>
<text x="1171.8" y="509" font-size="10.2" fill="#000" stroke="#000" stroke-width="0.18" textLength="14" lengthAdjust="spacingAndGlyphs" >100</text>
<text x="1171.5" y="527.8" font-size="10.2" fill="#000" stroke="#000" stroke-width="0.18" textLength="9.3" lengthAdjust="spacingAndGlyphs" >70</text>
<text x="1171.5" y="560.4" font-size="10.2" fill="#000" stroke="#000" stroke-width="0.18" textLength="9.3" lengthAdjust="spacingAndGlyphs" >30</text>
<text x="1171.5" y="578.8" font-size="10.2" fill="#000" stroke="#000" stroke-width="0.18" textLength="4.7" lengthAdjust="spacingAndGlyphs" >0</text>
<text x="4.4" y="594.9" font-size="10.2" fill="#000" stroke="#000" stroke-width="0.18" textLength="53.6" lengthAdjust="spacingAndGlyphs" >17 Nov 2018</text>
<text x="68.2" y="594.9" font-size="10.2" fill="#000" stroke="#000" stroke-width="0.18" textLength="53.7" lengthAdjust="spacingAndGlyphs" >27 Nov 2018</text>
<text x="132.1" y="594.9" font-size="10.2" fill="#000" stroke="#000" stroke-width="0.18" textLength="46.6" lengthAdjust="spacingAndGlyphs" >6 Dec 2018</text>
<text x="196.2" y="594.9" font-size="10.2" fill="#000" stroke="#000" stroke-width="0.18" textLength="51.8" lengthAdjust="spacingAndGlyphs" >15 Dec 2018</text>
<text x="260" y="594.9" font-size="10.2" fill="#000" stroke="#000" stroke-width="0.18" textLength="52.4" lengthAdjust="spacingAndGlyphs" >25 Dec 2018</text>
<text x="324.4" y="594.9" font-size="10.2" fill="#000" stroke="#000" stroke-width="0.18" textLength="44.3" lengthAdjust="spacingAndGlyphs" >3 Jan 2019</text>
<text x="388.3" y="594.9" font-size="10.2" fill="#000" stroke="#000" stroke-width="0.18" textLength="49.5" lengthAdjust="spacingAndGlyphs" >12 Jan 2019</text>
<text x="452.4" y="594.9" font-size="10.2" fill="#000" stroke="#000" stroke-width="0.18" textLength="49.3" lengthAdjust="spacingAndGlyphs" >22 Jan 2019</text>
<text x="516.2" y="594.9" font-size="10.2" fill="#000" stroke="#000" stroke-width="0.18" textLength="49.8" lengthAdjust="spacingAndGlyphs" >31 Jan 2019</text>
<text x="580" y="594.9" font-size="10.2" fill="#000" stroke="#000" stroke-width="0.18" textLength="46.8" lengthAdjust="spacingAndGlyphs" >9 Feb 2019</text>
<text x="644.4" y="594.9" font-size="10.2" fill="#000" stroke="#000" stroke-width="0.18" textLength="51.3" lengthAdjust="spacingAndGlyphs" >19 Feb 2019</text>
<text x="708.3" y="594.9" font-size="10.2" fill="#000" stroke="#000" stroke-width="0.18" textLength="50.9" lengthAdjust="spacingAndGlyphs" >28 Feb 2019</text>
<text x="772.4" y="594.9" font-size="10.2" fill="#000" stroke="#000" stroke-width="0.18" textLength="46.5" lengthAdjust="spacingAndGlyphs" >9 Mar 2019</text>
<text x="836.2" y="594.9" font-size="10.2" fill="#000" stroke="#000" stroke-width="0.18" textLength="51.6" lengthAdjust="spacingAndGlyphs" >19 Mar 2019</text>
<text x="900" y="594.9" font-size="10.2" fill="#000" stroke="#000" stroke-width="0.18" textLength="51.9" lengthAdjust="spacingAndGlyphs" >28 Mar 2019</text>
<path d="M8 40.5 L11.5 36 L15 40.5 Z" fill="#000"/>
<text x="20.3" y="41.0" font-size="10.2" fill="#000" stroke="#000" stroke-width="0.18" textLength="65.7" lengthAdjust="spacingAndGlyphs" >USDCAD,Daily</text>
<text x="92.3" y="41.0" font-size="10.2" fill="#000" stroke="#000" stroke-width="0.18" textLength="140.9" lengthAdjust="spacingAndGlyphs" >1.33599 1.33735 1.33508 1.33525</text>
<text x="9.5" y="441" font-size="10.2" fill="#000" stroke="#000" stroke-width="0.18" textLength="65.5" lengthAdjust="spacingAndGlyphs" >MACD(12,26,9)</text>
<text x="78.3" y="441" font-size="10.2" fill="#000" stroke="#000" stroke-width="0.18" textLength="37.4" lengthAdjust="spacingAndGlyphs" >0.002484</text>
<text x="119" y="441" font-size="10.2" fill="#000" stroke="#000" stroke-width="0.18" textLength="37.5" lengthAdjust="spacingAndGlyphs" >0.002877</text>
<text x="9.1" y="511" font-size="10.2" fill="#000" stroke="#000" stroke-width="0.18" textLength="30.9" lengthAdjust="spacingAndGlyphs" >RSI(14)</text>
<text x="44.2" y="511" font-size="10.2" fill="#000" stroke="#000" stroke-width="0.18" textLength="32.7" lengthAdjust="spacingAndGlyphs" >50.0933</text>
<text x="16.5" y="16.8" font-size="10" fill="#333" textLength="17.8" lengthAdjust="spacingAndGlyphs" >M30</text>
<text x="47.8" y="16.8" font-size="10" fill="#333" textLength="11.2" lengthAdjust="spacingAndGlyphs" >H1</text>
<text x="74.6" y="16.8" font-size="10" fill="#333" textLength="12.2" lengthAdjust="spacingAndGlyphs" >H4</text>
<text x="103.3" y="16.8" font-size="10" fill="#333" textLength="11.5" lengthAdjust="spacingAndGlyphs" >D1</text>
<text x="131" y="16.8" font-size="10" fill="#333" textLength="14" lengthAdjust="spacingAndGlyphs" >W1</text>
<text x="157.7" y="16.8" font-size="10" fill="#333" textLength="14.3" lengthAdjust="spacingAndGlyphs" >MN</text>
<text x="-2.5" y="16.8" font-size="10" fill="#333" >5</text>
<g shape-rendering="crispEdges">
<rect x="8" y="49" width="52" height="24" fill="url(#gBtn)"/>
<rect x="8" y="73" width="109" height="40" fill="url(#gBox)"/>
<rect x="119" y="73" width="108" height="40" fill="url(#gBox)"/>
<rect x="175" y="49" width="52" height="24" fill="url(#gBtn)"/>
<rect x="8" y="49" width="52" height="1" fill="#b00808" opacity="0.75"/>
<rect x="8" y="49" width="1" height="64" fill="#b00808" opacity="0.75"/>
<rect x="59" y="49" width="1" height="24" fill="#b00808" opacity="0.75"/>
<rect x="175" y="49" width="52" height="1" fill="#b00808" opacity="0.75"/>
<rect x="175" y="49" width="1" height="24" fill="#b00808" opacity="0.75"/>
<rect x="226" y="49" width="1" height="64" fill="#b00808" opacity="0.75"/>
<rect x="8" y="112" width="109" height="1" fill="#b00808" opacity="0.75"/>
<rect x="119" y="112" width="108" height="1" fill="#b00808" opacity="0.75"/>
<rect x="116" y="73" width="1" height="40" fill="#b00808" opacity="0.75"/>
<rect x="119" y="73" width="1" height="40" fill="#b00808" opacity="0.75"/>
<rect x="60" y="73" width="57" height="1" fill="#b00808" opacity="0.75"/>
<rect x="119" y="73" width="56" height="1" fill="#b00808" opacity="0.75"/>
<rect x="12" y="72" width="44" height="1" fill="#a40000"/><rect x="12" y="73" width="44" height="1" fill="#ff8a8a"/>
<rect x="179" y="72" width="44" height="1" fill="#a40000"/><rect x="179" y="73" width="44" height="1" fill="#ff8a8a"/>
<rect x="62" y="49" width="111" height="22" fill="#fff" stroke="none"/>
<rect x="62" y="49" width="111" height="1" fill="#b4b6c2"/><rect x="62" y="70" width="111" height="1" fill="#b4b6c2"/><rect x="62" y="49" width="1" height="22" fill="#b4b6c2"/><rect x="172" y="49" width="1" height="22" fill="#b4b6c2"/>
<rect x="63" y="50" width="20" height="20" fill="url(#gSpin)"/><rect x="83" y="50" width="1" height="20" fill="#c4c4c8"/>
<rect x="152" y="50" width="20" height="20" fill="url(#gSpin)"/><rect x="151" y="50" width="1" height="20" fill="#c4c4c8"/>
<rect x="63" y="50" width="20" height="1" fill="#fafafa"/><rect x="63" y="50" width="1" height="20" fill="#f4f4f4"/><rect x="152" y="50" width="20" height="1" fill="#fafafa"/><rect x="152" y="50" width="1" height="20" fill="#f4f4f4"/>
</g>
<path d="M69.8 57.8 L75.2 57.8 L72.5 61 Z" fill="#4a62c0"/>
<path d="M159.3 61 L164.7 61 L162 57.8 Z" fill="#4a62c0"/>
<text x="124.8" y="63.9" font-size="12.4" fill="#000" stroke="#000" stroke-width="0.1" textLength="23.2" lengthAdjust="spacingAndGlyphs" >5.00</text>
<text x="20.3" y="64.4" font-size="11.7" fill="#ffecec" textLength="26" lengthAdjust="spacingAndGlyphs" >SELL</text>
<text x="188.3" y="64.4" font-size="11.7" fill="#ffecec" textLength="24" lengthAdjust="spacingAndGlyphs" >BUY</text>
<text x="28.2" y="103.6" font-size="11.8" fill="#fff" font-weight="bold" textLength="23.4" lengthAdjust="spacingAndGlyphs" >1.33</text>
<text x="56.4" y="103.6" font-size="34.5" fill="#fff" textLength="16.2" lengthAdjust="spacingAndGlyphs" stroke="url(#gBoxU)" stroke-width="0.3">5</text>
<text x="72.5" y="103.6" font-size="34.5" fill="#fff" textLength="18.5" lengthAdjust="spacingAndGlyphs" stroke="url(#gBoxU)" stroke-width="0.3">2</text>
<text x="95.7" y="87.8" font-size="11.4" fill="#fff" font-weight="bold" >5</text>
<text x="138.2" y="103.6" font-size="11.8" fill="#fff" font-weight="bold" textLength="23.4" lengthAdjust="spacingAndGlyphs" >1.33</text>
<text x="167.0" y="103.6" font-size="34.5" fill="#fff" textLength="16.2" lengthAdjust="spacingAndGlyphs" stroke="url(#gBoxU)" stroke-width="0.3">5</text>
<text x="183.3" y="103.6" font-size="34.5" fill="#fff" textLength="19.2" lengthAdjust="spacingAndGlyphs" stroke="url(#gBoxU)" stroke-width="0.3">4</text>
<text x="206.4" y="87.8" font-size="11.4" fill="#fff" font-weight="bold" >6</text>
<g shape-rendering="crispEdges">
<rect x="290" y="606" width="104" height="18" fill="#fff"/>
<rect x="290" y="605" width="1" height="19" fill="#000"/><rect x="393" y="605" width="1" height="19" fill="#000"/><rect x="290" y="623" width="104" height="1" fill="#000"/><rect x="291" y="605" width="102" height="1" fill="#fff"/>
<rect x="98" y="609" width="1" height="13" fill="#808080"/>
<rect x="190" y="609" width="1" height="13" fill="#808080"/>
<rect x="498" y="609" width="1" height="13" fill="#808080"/>
<rect x="594" y="609" width="1" height="13" fill="#808080"/>
<rect x="686" y="609" width="1" height="13" fill="#808080"/>
<rect x="778" y="609" width="1" height="13" fill="#808080"/>
<rect x="866" y="609" width="1" height="13" fill="#808080"/>
<rect x="970" y="609" width="1" height="13" fill="#808080"/>
<rect x="1038" y="609" width="1" height="13" fill="#808080"/>
<rect x="1130" y="609" width="1" height="13" fill="#808080"/>
</g>
<text x="18.6" y="619.8" font-size="12.6" fill="#7a7a7a" stroke="#7a7a7a" stroke-width="0.1" textLength="67.5" lengthAdjust="spacingAndGlyphs" >EURUSD,H4</text>
<text x="109.1" y="619.8" font-size="12.6" fill="#7a7a7a" stroke="#7a7a7a" stroke-width="0.1" textLength="69.9" lengthAdjust="spacingAndGlyphs" >AUDUSD,H4</text>
<text x="200.3" y="619.8" font-size="12.6" fill="#7a7a7a" stroke="#7a7a7a" stroke-width="0.1" textLength="79.3" lengthAdjust="spacingAndGlyphs" >USDCHF,Daily</text>
<text x="301.2" y="619.8" font-size="12.6" fill="#000" stroke="#000" stroke-width="0.05" textLength="81.1" lengthAdjust="spacingAndGlyphs" >USDCAD,Daily</text>
<text x="404.6" y="619.8" font-size="12.6" fill="#7a7a7a" stroke="#7a7a7a" stroke-width="0.1" textLength="82.7" lengthAdjust="spacingAndGlyphs" >USDCNH,Daily</text>
<text x="508.3" y="619.8" font-size="12.6" fill="#7a7a7a" stroke="#7a7a7a" stroke-width="0.1" textLength="74.7" lengthAdjust="spacingAndGlyphs" >USDJPY,Daily</text>
<text x="605.4" y="619.8" font-size="12.6" fill="#7a7a7a" stroke="#7a7a7a" stroke-width="0.1" textLength="68.1" lengthAdjust="spacingAndGlyphs" >XAUUSD,H1</text>
<text x="697.8" y="619.8" font-size="12.6" fill="#7a7a7a" stroke="#7a7a7a" stroke-width="0.1" textLength="68.4" lengthAdjust="spacingAndGlyphs" >GBPUSD,H4</text>
<text x="790.3" y="619.8" font-size="12.6" fill="#7a7a7a" stroke="#7a7a7a" stroke-width="0.1" textLength="63.0" lengthAdjust="spacingAndGlyphs" >SP500,M15</text>
<text x="878.2" y="619.8" font-size="12.6" fill="#7a7a7a" stroke="#7a7a7a" stroke-width="0.1" textLength="80.1" lengthAdjust="spacingAndGlyphs" >GBPUSD,Daily</text>
<text x="980.4" y="619.8" font-size="12.6" fill="#7a7a7a" stroke="#7a7a7a" stroke-width="0.1" textLength="46.1" lengthAdjust="spacingAndGlyphs" >DJ30,H4</text>
<text x="1048.5" y="619.8" font-size="12.6" fill="#7a7a7a" stroke="#7a7a7a" stroke-width="0.1" textLength="70.0" lengthAdjust="spacingAndGlyphs" >TECH100,H1</text>
<text x="1142.4" y="619.8" font-size="12.6" fill="#7a7a7a" stroke="#7a7a7a" stroke-width="0.1" textLength="34.4" lengthAdjust="spacingAndGlyphs" >UKOil,</text>
<path d="M1186.4 611 L1186.4 617 L1183 614 Z" fill="#9a9a9a"/><path d="M1201.5 610.6 L1201.5 617.4 L1205.5 614 Z" fill="#000"/>
</svg>
</body></html>
